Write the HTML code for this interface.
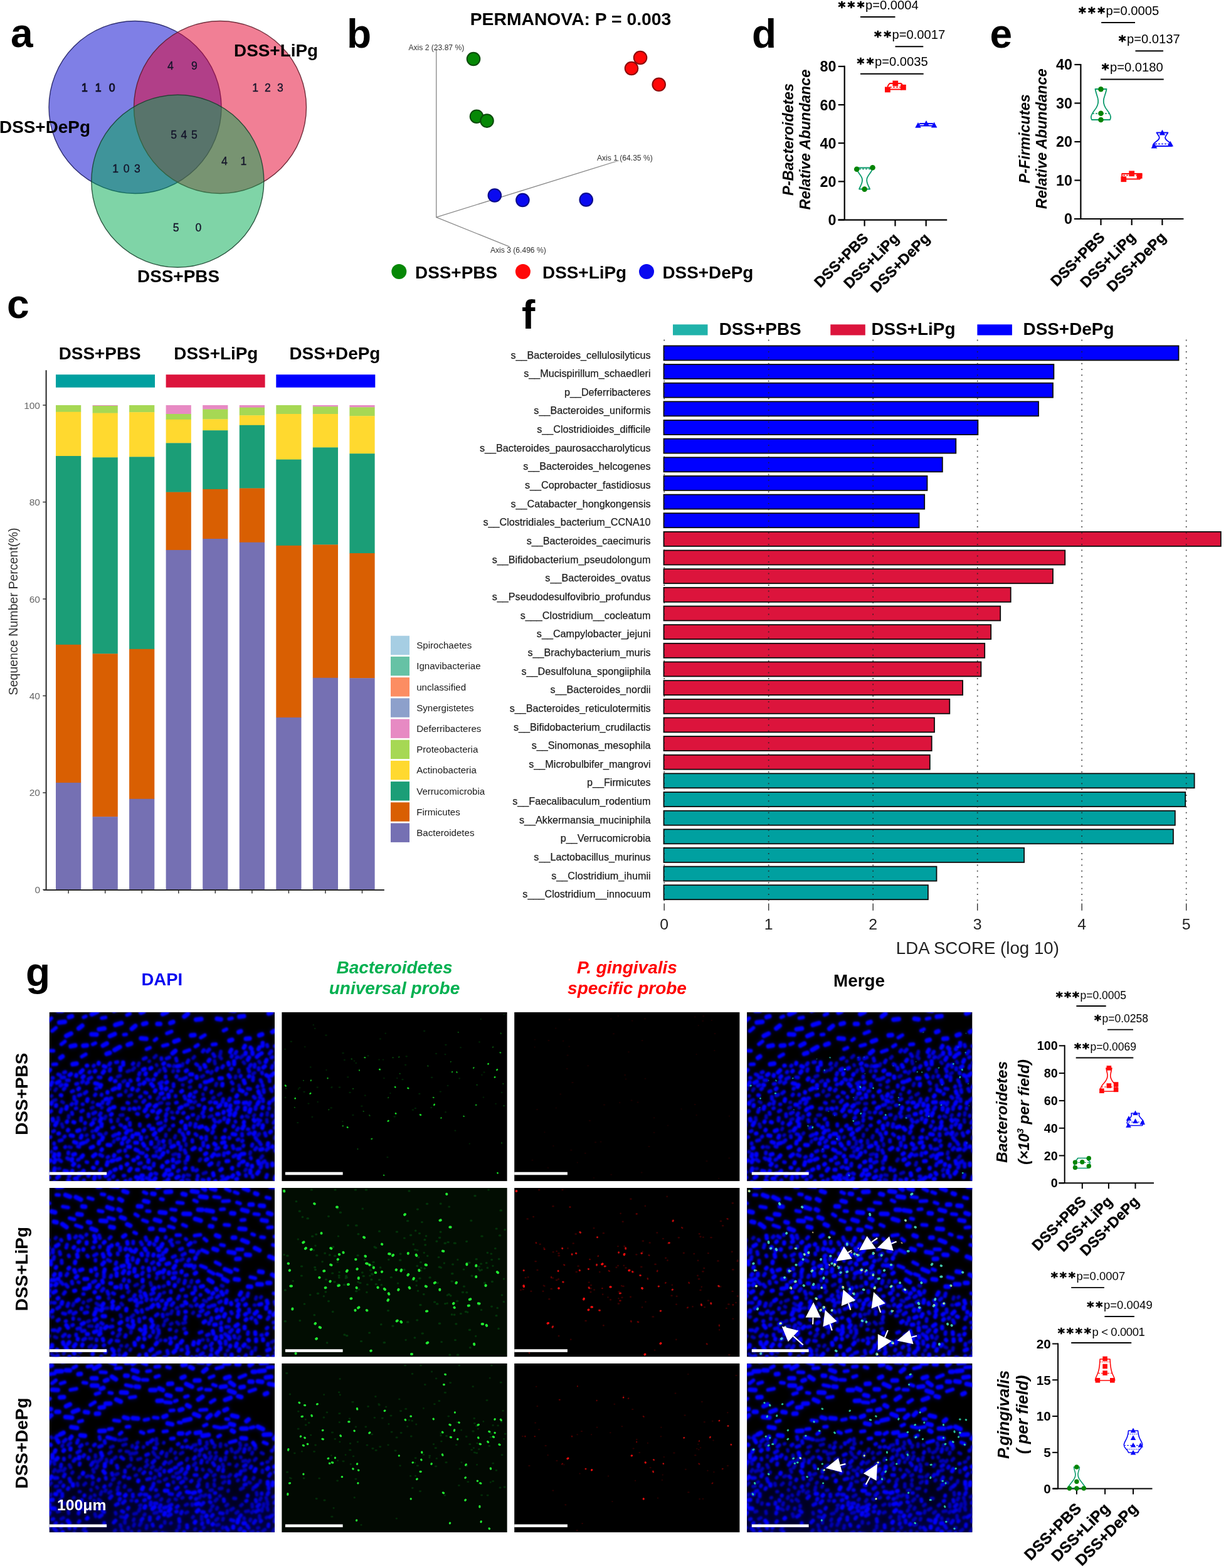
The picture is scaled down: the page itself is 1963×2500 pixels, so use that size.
<!DOCTYPE html>
<html lang="en"><head><meta charset="utf-8"><title>Figure</title>
<style>
html,body{margin:0;padding:0;background:#fff}
body{width:1963px;height:2500px;overflow:hidden}
svg{display:block;font-family:"Liberation Sans",Arial,sans-serif}
.b{font-weight:bold}.i{font-style:italic}.bi{font-weight:bold;font-style:italic}
.pl{font-weight:bold;font-size:64px}
.g{font-weight:bold;font-size:27.9px}
</style></head><body>
<svg width="1963" height="2500" viewBox="0 0 1963 2500">
<rect width="1963" height="2500" fill="#fff"/>
<g id="panel-g">
<text x="41" y="1571.5" class="pl">g</text>
<text x="258.3" y="1571.3" class="b" font-size="27.5" text-anchor="middle" fill="#0808f0">DAPI</text>
<text x="629" y="1551.5" class="bi" font-size="28" text-anchor="middle" fill="#00b050">Bacteroidetes</text>
<text x="629" y="1585.2" class="bi" font-size="28" text-anchor="middle" fill="#00b050">universal probe</text>
<text x="1000" y="1551.5" class="bi" font-size="28" text-anchor="middle" fill="#ff0000">P. gingivalis</text>
<text x="1000" y="1585.2" class="bi" font-size="28" text-anchor="middle" fill="#ff0000">specific probe</text>
<text x="1370" y="1572.6" class="b" font-size="27.8" text-anchor="middle">Merge</text>
<text class="g" font-size="28.1" text-anchor="middle" transform="translate(44 1744.2) rotate(-90)">DSS+PBS</text>
<text class="g" font-size="28.1" text-anchor="middle" transform="translate(44 2023.1) rotate(-90)">DSS+LiPg</text>
<text class="g" font-size="28.1" text-anchor="middle" transform="translate(44 2301) rotate(-90)">DSS+DePg</text>
<defs>
<clipPath id="ic"><rect width="359.2" height="269.2"/></clipPath>
<filter id="soft" x="-5%" y="-5%" width="110%" height="110%"><feGaussianBlur stdDeviation="0.8"/></filter>
<filter id="glow" x="-5%" y="-5%" width="110%" height="110%"><feGaussianBlur stdDeviation="3.5"/></filter>
<filter id="soft2" x="-5%" y="-5%" width="110%" height="110%"><feGaussianBlur stdDeviation="0.6"/></filter>
<linearGradient id="hz3" x1="0" y1="0" x2="0" y2="1"><stop offset="0.5" stop-color="#000030" stop-opacity="0"/><stop offset="1" stop-color="#000040" stop-opacity="0.8"/></linearGradient>
<g id="n1">
<g filter="url(#soft)"><g id="n1b" fill="none" stroke-linecap="round">
<path d="M14.4 172.2l-0.5 -4.2M185.5 197.6l0.3 -2.9M108.8 102.7l4.1 -1.5M171.3 84.9l-0.6 -1.2M70.2 171.4l2.8 -1.2M121.5 126.9l0.6 -1.7M66.8 152.8l2.8 -1.2M175.4 145.3l3.7 -0.8M347 175.1l-0.4 -3.8M136.6 142l1.9 0.3M310.9 81.5l-1.6 -2M83.5 152.6l0.5 -0.7M296.6 104.4l0.5 -2.4M182.5 216l1 -3.9M197 94.7l0.5 -1.3M347.2 164l0.4 -3.7M269.7 131.9l3.6 -2.4M239.2 236.8l1.8 -2.6M31.5 214.7l3 0.7M272.5 66.9l0.9 -4.5M3.1 133.9l0.7 -0.8M225.4 152.9l3.6 -0.3M220.1 259.4l3.2 0.6M236 170.7l1.8 -4.4M359.3 201.3l0.5 -2.4M211.9 85.2l0.8 -2.9M170.7 222.7l0.2 -1.1M187.9 145.8l3 -0.2M58.9 196.5l1.1 -0.9M21.2 183l-1.4 -4.7M245.4 257.1l4.4 -1.6M112.7 164.2l4.4 -0.4M141.5 85l1.4 -3.8M9.1 124.7l1.9 -2.5M159 78.5l0.6 -0.6M124.1 94.6l3.4 -1.4M68.8 143.8l0.7 -0.3M167.7 215.8l3.2 -0.9M117.4 110.8l2.8 -1.7M337.3 232.2l2.5 -3M102.4 207.1l0.7 -2.1M274.1 74l-2.8 -3.8M154.4 199.8l1 -1.2M89.3 193.9l1.3 -1.4M223.3 119.9l1.7 -0.7M325.9 165.2l1.2 -1.6M199.8 200.3l1.1 -3.4M30.6 168l-0 -2.9M302.5 118.8l-0.2 -2.5M264.9 200.5l-0 -1.2M305 72.5l3.6 -3.3M194.8 159.3l1.4 0.7M19.8 142.6l2.3 1.3M217 241l-0.6 -3.1M312 252.5l1.5 -2M265.3 116.9l1.2 -3.3M260.5 137.1l1.9 -1.1M257.6 97.4l1.8 -2.8M229.1 73.3l2.2 -2.5M324.9 98.2l2.3 -1.5M174.1 210.4l0.5 -4.5M167.1 72.2l3 -3M174.9 95l1.4 -2.8M198.1 86.6l0.7 -1.4M197 227.1l4.5 -1.1M212.2 115.8l0.9 0.2M230.8 143.7l2.2 -1.2M291.5 124.9l1.3 -2.3M302.1 95l-0 -2.9M68.1 190.1l0.7 -0.5M319.8 226l0.7 -3.1M335.6 80.4l-1.4 -1.9M6.4 141l3.9 -1.3M2.4 222.7l1.2 -0.6M254.8 166.8l4.3 -1.6M108.9 173.8l0.7 -3.3M55.7 187l1.1 -1.9M172.2 138.4l2.3 -3M242.6 103l3 -1.8M192.6 208.9l-0.1 -4.6M-3.2 121.3l3.5 1.4M219.4 267l3.3 1M269 243.6l1.3 -4.1M314.2 165.6l2.6 1.4M88.1 169.3l1.7 -3.5M264.1 82.1l-0.8 -4.6M245 131.5l-0.1 -1M191.1 187.6l0.6 -1M332.8 196l2 -2.2M218 212.4l-0.2 -2.6M183.4 182.1l1.2 -1.5M132.7 92l2.8 -3.1M14.7 249.7l1.6 -0.4M126.9 133.6l3.8 -1.9" stroke="#0000b0" stroke-width="5.4"/>
<path d="M96.1 93.6l0.8 -2.9M202.5 239.8l4.5 -1.7M264.3 174.7l-2.2 -3.8M187.3 155.7l2.2 -2.1M263.4 70.3l-2.2 -3.7M275.5 88.2l1.5 -2.6M216.7 137.7l-1.5 -3.9M331.1 203.7l-2.6 -3.6M240.5 91.5l-0.4 -3.2M350.2 153.9l0.1 -1.1M149.4 143.3l2.4 -2.6M351 66l2.9 -3.8M158 181.4l1.5 -1.1M267.3 228.1l3.4 -0.7M235.9 271.5l-0.4 -4.7M275.9 142.9l1.1 -4.7M144.8 224l4.3 0.7M58.4 206.9l3.1 -2.9M185.3 173.2l0.4 -1.9M30.1 225.1l0.1 -1.5M140.1 124.9l1.7 -1.6M70.2 199.4l-0.3 -2.2M355.6 140.6l3.6 -3.1M207.3 190l0.5 -2.3M327 87.2l0.4 -3.9M160.4 135.8l-0.3 -1M59 238.9l1.6 0.3M98.4 174.4l-0.6 -2.6M335.7 136l1.4 -2.8M128.4 180l-0.2 -3.7M83 132.1l0.3 -0.9M273.9 269.1l2.3 -1.5M355.3 165.6l0.1 -1M304.6 102.6l0.6 -1.4M359.4 184.3l0.8 -0.8M178.6 74.8l-0.1 -1.5M50.7 158.1l2.7 -1.5M4.9 104.6l1 0.1M278.4 170.6l0.6 -1.9M244.5 62.8l1.7 -2.5M196.1 168.6l2.1 0.5M298.4 155l2.4 -3.6M0.9 158.8l2.2 -1.3M132.8 82.9l1.2 -1.6M313.4 130.7l0.7 -0.8M23.3 96.1l2 -0.7M293.5 217.1l-1.2 -4.1M78.2 103.7l3.5 0.4M63.5 95.9l0.9 -1.1M321.4 233.3l-0.4 -1.2M248.3 122.9l1.2 -2.3M80.1 163.8l1.8 -2.9M213.1 161l1.2 -0.8M84.4 229.2l-3.8 -2M182.9 270.5l1.9 -0M306.8 167.3l0.6 -0.9M50.3 172.8l0.3 -4.2M165.1 107.8l1.5 -0.8M124.2 144.2l2 0.6M41.9 153.4l1.1 -0.3M173.3 177.5l4.6 -1.1M152.5 127.9l2.5 0.8M213.3 262.4l0.8 -1.9M100.4 184.5l1.9 -0.9M243.9 267.4l2.6 0.6M206.8 230.4l-0.1 -3.3M354.5 89.1l1.2 -3.7M345.1 196.8l-1.5 -4.1M97.6 137.2l1.5 -0.2M339.2 97.7l-0.3 -1.7M309.1 213.5l0.5 -1M299.1 187.8l1.8 -2.7M45.4 214l2.1 0.6M116.3 153.6l2.7 -0.2M201.2 134.2l0.2 -0.8M327.7 136.7l-2 -2M299.6 218.5l4.1 -0.8M184.9 93.6l-2 -4.3M279.7 188.8l0.8 -1.4M42.5 114.5l2.4 -0.7M245.4 166.8l0.8 -0.7M223.8 111l2.1 -1.8M316.2 121.8l4 0.7M292.2 113.7l-1.6 -2.2M124.5 207.2l2.5 -2.7M287.1 200.8l-0.3 -0.9M79.1 194.3l3 0.8M224 179.9l0.8 -2.8M340.3 117.6l-0.4 -1.5M325.5 183.8l0.7 -2.6M118 260.7l1.9 -0.2M202.3 103l0.8 -1.3M165.8 229.4l4 -0.3M62.6 106.4l4.3 -2.3M347.2 246.6l-0.2 -5M236.4 261.9l0.3 -1.3M182.4 137.7l1.2 -0.5M351.2 110.1l-0.2 -2.3M150.1 74.4l3.8 -1.6M24.9 215.2l0.7 -0.5M53.1 272.2l2 -4.4M231.7 127.8l2.2 -1.2M234.8 196l-2.1 -1.8M143.1 152.9l-0.1 -0.9M301.7 244.4l1 -2.9M188.9 222.9l-0.2 -1M336.7 248l1 -2.5M258.2 127.9l1.1 -1.6M80.2 263.6l-1.1 -4.6M23.7 198.7l0.8 -0.7M324.5 108.7l0.3 -5M289.3 91l1.2 -1.1M93 146l2.3 -3.6M94.7 267.3l0.9 -0.6M113 179.5l1.6 0.9M186.9 73.7l4.2 -1.6M175.2 113.6l4.3 -2.1M251.9 62.5l3 -3M296.6 65.5l1.6 -2.7M185.5 165.4l1.3 -3.4M219.8 80.1l1.8 -3.5M213.8 196.2l-1.7 -2.9M196.7 180.8l1.1 -0.4M28.3 232.6l2.2 1.5M155.7 106.8l2.8 1.2M110.4 132.6l3.4 -0.9M1.2 199.3l0.8 -0.5M319.8 85.9l1.4 -2.3M228 206.4l-0.1 -2.7M236 84l-2.2 -1.3M46.7 245.8l0.6 -0.6M17.6 159.1l1.6 -4.5M342.1 127.6l-0.6 -4M123.3 229.4l1.5 0.5M95.4 83.6l1.7 -2.5M46.8 132.5l2.8 -0.9M362.1 147.6l0.3 -1.5M155.5 166l1.6 -1.6M72.4 132.4l1.2 -1.4M56.1 129.3l3 -2.4M286.5 140.5l1.3 -3.1M232.4 182.7l0.8 -4.6M328.6 154.8l0.5 -4M354.6 125.9l-1.8 -3.7M318.6 94.5l-1.7 -4.5M240.5 118.6l0 -2M69.7 161.5l3.7 -1.9M217.3 224.5l-1.7 -4.4M80.5 252.3l2.1 -2M59.1 113.2l2.4 -1.7M250 203.2l-0 -4.7M237.5 148.5l1.6 -0.3M228.7 251.6l-0.3 -3.3M251.5 95l1.3 -0.3M109.8 222.2l2.9 -1.3M322.9 213.1l0.9 -2.5M127.9 269.5l1.3 -3M39.7 134.7l0.1 3.6M307.2 205.8l1 -1.1M245.4 212.5l-0.1 -4.8M244 139.6l2.6 -1.3M243.8 161.6l1.6 -2.9M62.5 166l-0.1 -3.4M259.6 192.5l1.3 -2.5M331.7 119.3l0.5 -1.1M19.3 104.2l4.4 -0.4M197.9 118.2l-0 -3.6M214.8 204.3l0.9 -3.9M105.9 79.9l2.6 -0.5M201.6 144.4l1.8 -0.6M101.5 197.2l4 -2M338.1 111.2l-1.5 -3.2M150.9 247.4l2.1 -0.7M307.4 196.8l-0.2 -2.8M265.3 218.5l4.3 -2.1M52 111.8l1.5 -1.7M357.5 176.4l2.5 -3.6M129.8 109.7l-0.8 -1.3M168.6 256.8l2.1 1M142.9 99.6l0.9 -2.9M340.7 141.9l-0.2 -3.1M-2.6 181.5l0.6 -3M337.2 210.9l-2.4 -3.9M293.4 230.1l3.8 -2.3M317.7 194.1l2.6 -1.5M7.5 209.9l-0 -1.1M255.5 143.8l1.8 -0.6M142.7 241.4l3.4 -1M52.7 146.8l0.8 -0.1M189.6 84.6l2.1 0.6M15.2 235l3.5 2.6M193.4 125.9l1.8 -0.5M203.9 160.1l0.8 -1.1M107.4 271l1.3 -2.1M278.1 228.2l0.4 -3.5M143.1 115.5l1.1 -0.6M84.6 144.6l0.4 -1.7M155.7 217.7l1 0.8M129.5 188.4l1 -0.2M270.1 174.9l2.2 -1.5M327.9 218.9l2.3 -2.7M42.4 146l0.9 -3.7M13.9 99l3 1.3M296.9 174.8l-0.3 -0.7M92.6 231.3l1.3 -1M299.8 203.4l1.8 -0.8M346.3 219.7l3.2 -3.3M35.5 126.5l2.4 -0.9M234 252.6l1.5 -1.2M324.1 262.8l-0.3 -1.9M333.7 91.3l0 -2.4M316.2 186.5l1.2 0.2M204.8 253.6l1.6 -1.5M27.9 108.4l3.2 0.1M345.7 263.2l1.3 -4M74.1 122.3l0.8 -0.7M45.3 235.4l1.7 -0.9M166.2 244.8l0.4 -3.6M175.1 231.9l1.6 -0.4M185.3 103.7l0.1 -1.5M230 135.4l0.9 -0.2M298.5 72.4l1.7 -1M139.6 162l1.8 0.4M202.9 77.5l-1 -3.9M275.1 261.7l1.4 0.1M35 147.2l1.3 -1.2M144.1 180.9l-0 -2.5M17.4 117.2l2.4 -1.3M70.3 85.7l0.8 -0.9M293 182.6l0.7 -1.4M337.9 164.2l0.7 -1.6M101.4 262.5l1.1 -1.3M36.5 162.4l-0.6 -2.4M313.5 261.3l-0.2 -1.7M154.8 264.4l4.2 0.8M347.7 54.5l-0.6 -2.5M204.9 93.6l0.8 -0.1M47.3 260.3l-0.3 -3.5M5.7 190.1l1.8 -0.9M266.3 92.5l1.6 -3.4M359.2 54l3.9 0.9M208.9 219l0.4 -4.6M318.3 147.7l1.9 -4M22.7 122.9l1.4 -1.4M214.5 106l3.5 -1.6M170.6 201.9l0.4 -1.7M123.6 170.7l1.3 -1.1M44.9 270.9l1.5 -0.2M290.3 71l0.7 -1.8M361.8 159.7l0.3 -4.2M207.6 107.2l4 0.2M56.6 177.3l0.5 -1.1M228.2 163.8l1.3 -0.2M332.1 171.3l4.3 1.3M332.3 179.5l1.4 -1.8M108.6 202.4l1.8 -0.7M339.7 240.2l3.6 -2.9M144.3 135.1l1.5 -0.7M15.8 204.9l4 -1.1M120.7 221.1l0.3 -1.3M31 262.3l1.1 -1.3M171.1 169.4l1.5 -1.6M216.5 148.3l4.2 -1.3M360.3 80.5l2.8 -1.7M354.1 72.2l1.4 -0.7M127.6 155.2l0.4 -1.3" stroke="#0000e0" stroke-width="5.8"/>
<path d="M291.2 249.3l0.3 -1.3M301.9 232.8l1.5 -4.5M7.6 239.1l1.8 -3.7M46 122.8l1.2 -1.3M271.3 105.4l3.8 -0.2M113.9 248.6l0.1 -2.3M156.3 149.6l3.5 -2.3M147.1 260.4l1.9 -0.1M248.6 87.2l-1.4 -3.1M219.8 235l1.1 -4.5M181.4 206.1l0.5 -1M10.5 149.5l0.2 -1.4M69.6 229.7l3.8 -3M275.3 208.1l3.7 -0.9M137.9 274.2l2.7 -4.1M167 267.7l2.1 -2.7M149.2 209.5l2.1 3.3M37.8 243.5l1.6 -1.7M247 153.2l0.4 -1.6M72.8 113.3l4.1 1M26.8 154.1l0.9 -3.6M331.3 257.4l2.4 -3.4M323.9 66.6l-0.2 -2.5M202.5 264.1l3.5 -2.2M194.6 214.8l4.2 -1.9M150.2 113.6l1.5 -1.8M39.7 175.6l-1.5 -0.5M163.8 157.8l1.6 -0.2M91.5 243.5l1.3 -4.6M169.3 99.9l0.7 -1.3M50 209.6l4.1 -1.2M166.4 195.2l2.5 -2.7M355.5 214.7l0.3 -0.8M40.8 265.3l3.1 -0.7M294.7 164.5l1.7 -3.9M242.4 200.4l-0.4 -0.8M60.1 141.6l0.7 -3.1M103.8 251.4l2 -1M33.9 196.4l3.7 0.6M78.3 82.3l0.4 -1.6M82.9 181.5l0.3 -3.3M257.6 155.3l0.8 -1.3M222.3 141l3 1.2M248.3 226.3l1.9 -1.3M249.5 235.6l2.3 -1.5M139.5 251.2l1.9 -0.1M51.6 256.5l3 -3.5M115.8 209.6l-0 -1M255.3 109.5l4 -2M74.6 188.4l2.7 -3.5M210.2 126.6l1.5 -1.1M123.2 242.9l1.2 -1M318 102.5l0.6 -0.8M181.6 82.4l1.3 -1M252.4 187.5l-2.8 -3.2M223.3 133.4l1.5 -2.7M86.7 85.9l2.7 1.1M138.4 194.1l3.8 -0.1M42.5 101.6l0.4 -1.7M14.3 193.4l1 -0.2M263 271.6l2 -2.3M35.6 254.9l1 -1.9M359.8 119.6l0.7 -1.3M117.8 202.1l3 -2.1M124.8 116.8l0.2 -2.5M191.3 259.7l3.8 -1.3M197.6 247l-0.1 -1.4M98.1 163.4l1.2 -1M122.2 192.5l2.6 -3.6M307.9 185.3l2.2 -4.2M267.5 162.6l2 -0.2M344.8 79.3l1.5 -3.3M149.2 91.7l2.8 -1.4M5.7 172.6l-0.5 -2.7M262.9 209.6l2.1 1.8M11.8 112.6l4.1 -2.2M179.5 246.6l0.8 -1.7M15 228.2l0.2 -2.5M32.1 100.2l2.3 -1.7M284.2 175.6l1.4 -3.8M37.8 227l3 -0.9M175.7 187.9l3.2 -2.3M39.4 206.9l3.5 1.2M264.1 144l1.9 0.2M132 198.8l0.7 -2.2M261.5 183.8l1.7 -2.6M148.2 271.9l0.3 -5M96.3 255.7l0.8 -0.7M308.2 126l-4.5 -2M319.1 159.1l1.4 -4.4M94.3 156l1.9 -1.9M177.4 129.9l2.6 -0.7M288.2 63.4l1.9 -3.7M102.9 229.2l0.6 -1.5M294.6 82.8l-0.1 -4.7M282.4 237.5l2.9 -0.3M348.3 211.5l0.4 -2.8M310 144.6l3.9 -0.5M165.3 117.7l-3 -3.4M172.9 160.4l3.6 -3.4M261.8 260.1l-0.8 -3.5M190.1 135.1l-0.3 -3.6M337.4 66l1.1 -0.6M310 56.8l1.8 -3.3M111.2 121l0.7 -4.9M75.7 240.8l0.5 -1.7M101.4 151.7l2.3 -0.5M107.9 235.2l4.6 -1.9M8.7 216.8l1.6 -0.4M18 132.3l1 0.2M354.2 100.7l3.4 -3.1M216.2 249.6l0.9 -0.9M100.8 123.4l4.2 -1.9M312.7 66.5l0.3 -2.1M150 189.1l0.9 -0.8M298.1 134.5l1.4 -1.9M127.2 252.6l2.4 -3.4M284.4 224.3l1.3 -0.5M277.6 160.4l0.4 -1.6M297.8 266.1l1.6 -0.4M131.9 122.9l0.7 -1.2M276.5 200.1l2.6 -0.6M320.3 256l0.1 -3.6M217.5 93.8l1.8 -1.1M291.4 262.2l1.5 -2.3M178.5 121.7l-0.6 -3.7M187.3 251.8l3.7 -0.2M220 168.5l1.2 -0.7M296.8 143.6l4.5 -0.2M29.4 188.4l0.6 -0.8M210.2 175.2l0.8 -0.7M154.3 229.7l0.6 -0.8M134.7 153.6l1.7 0.4M185.7 122.6l1.2 -1.3M167.9 150.2l2.6 -2M196.9 236.7l0.1 -2M80.9 118.9l1.4 -3M29.8 268.5l1.8 0.7M176.2 219.4l0.7 -1.7M27.8 175l0.4 -0.9M162.3 209.8l0 -2.5M50.1 200l1.2 -3.1M339.5 184.5l0.8 -4.2M168.3 126.1l0.9 -1.6M53 103.8l1.6 -1.6M59.5 85.2l0.9 -0.2M234.8 104.6l-0.1 -2.1M120.1 183.9l0.9 -0.7M26.2 115.6l1.2 0.6M333.3 58.9l1.5 -2.9M110.5 193.8l0.6 -0.6M240.9 219.1l-0.2 -1.1M203.3 86.2l4.2 -0.8M-2.4 94.9l3.4 -2.9M362.7 223.1l-2.2 -2.5M140.7 232l0.7 -0.8M-3.6 263.6l2.8 -0.1M151.8 157.7l2.3 -3.2M125.3 214.5l3.2 0M306.6 226.1l4.2 -0.4M302.1 258.3l-1.5 -2.2M83.9 202.9l1.3 -3.3M269.1 151.1l3.4 -3.2M334 241.6l-1.3 -4.5M286 83.5l-0.7 -3.1M117.7 83.6l-0.2 -3.5M-2.7 255.4l1.2 -0.6M51.4 230.7l2 -2.4M2.1 115.8l2.1 -4M146 202.2l0.1 -2.8M9.2 180.1l2.3 -3.9M221.6 193.1l0.1 -1M255 243.3l3.4 -2.4M287.9 103.5l-2.1 -3.2M12.4 264l2.7 -2.4M238.9 183.5l4.4 -1.4M322.4 58.5l-1.8 -2.2M315.5 243.5l0.3 -1.3M137.4 219l3.4 1.5M253.9 267l0.3 -0.9M157.7 238.7l0.3 -2.8M355.6 244l-0.1 -2.8M69.5 247.9l1.2 0.2M311.5 113.2l-1.6 -4.5M359.5 265.9l0.9 -3.8M72.3 94.4l0.9 -0.9M80.6 173.8l2 -4.6M285.4 156.8l3.4 -1.2M49.4 96.1l3.5 -3.6M71.4 266.1l0.9 -4M113.1 92.3l-0 -4M316.4 75.9l1.9 -3.6M352 191.5l1.1 -1.2M158.9 248.6l1.8 0.6M339.6 152.8l0.6 -1.6M35.8 236.3l0.5 -2.3M62.1 261l1.2 -2.9M205.6 209.6l-0.1 -1.5M275.7 116.6l0.2 -2.3M187.1 238.9l1.7 -0.8M341.1 88.1l2.5 -1.9M138.1 262.9l4.6 1M85.1 96.6l1.9 -2.5M3.1 146l0.4 -1.6M272.5 251.7l2.3 -1.7M99.1 237.3l2.8 -0.8M136.8 208l2.9 -0M182.9 260.1l2.1 -2.7M334.2 129.1l-1 -2.9M160.8 89.9l1.8 -1.1M253.8 77.8l1.5 -2.2M292.1 194.2l4.5 0.7M280.5 215.6l0.9 -2.1M77.2 147.4l2.6 0.3M311.8 155.2l0.3 -2.9M188.8 267.4l1 -0.7M287.1 164l1 -2.5M247.9 111.5l2.8 -0.4M96.9 107.4l1.3 -2M92.7 211.6l4.5 0.2M133.8 236l1.1 -0.3M89.4 261.2l3.5 -1.9M210.1 269.7l2.1 -0.9M78.6 209.4l0.7 -3M349.2 102.4l-3.4 -2.2M281.3 148.5l0.4 -2.6M323.1 246l-0 -1.1M7.3 230l0.9 -3.6M336.3 219l3.4 -0.8M207.3 153.1l3.6 -2M228 218.5l3.8 -2.3M186.3 112.3l1.3 -1.1M6.1 273.3l1.7 -2.4M141.4 107.9l0.4 -1.5M162.9 186l3 -0.3M331.9 146.2l2 -3.6M153.2 99l0.6 -1.6M252.8 214.8l0 -1.2M281.3 266l3.7 -2.5M159.9 273.2l0.9 -4.6M307.1 238.6l2.7 -0.7M224.5 99l3.1 0M-0.7 237.6l2.4 -1.4M66.8 179.1l2.6 -2.5M120.8 270.1l0.8 -0.6M7.5 253.3l1 -4.4M327.1 173.4l-1.3 -1.9M24 253.2l4.1 0.9M180 227.3l1.8 -2.9M92.5 128.2l0.2 -1M66 216l3.6 -1.5M288.3 150.3l0.3 -1.8M89.5 138.8l2.2 -0.7M82.9 219.8l0.9 -1.3M104.4 109.9l1 -0.2M44.4 189.2l3.5 -1.2M310 176.1l0.3 -1.4M217.1 185.5l-0.2 -4.8M339.9 53.6l0.1 -4.8M259.3 229.9l3 -3.7M330.7 71.4l3.1 -3.1M350.4 145.4l0.5 -1.5M160.9 259.9l1.2 -1.9M326.1 194.4l1.4 -2.8" stroke="#0202ff" stroke-width="6.4"/>
<path d="M232.7 54.7l4.2 -2.6M167.7 44.7l3.1 -2.4M83.4 9.3l6.1 -1M214.8 63.2l8.5 -2.9M5.9 83.1l5.3 -0.3M259.9 51.5l5.7 -0.5M4.4 29.9l6.1 -5.1M123.7 4.4l4.6 -2.2M54.5 8.1l3.5 -1.5M187.3 33.8l7.6 -3.1M241.3 40.5l6.6 -4M69 51.2l4.3 -1.9M18.9 51l5.9 -4.5M154.8 58.9l5.5 -2.3M118.6 35.8l3.8 -0.5M102.8 -1.6l5.5 -2.7M1.4 61.3l5 0.2M277.7 29.4l4.6 -2.4M51.6 70.8l6.4 -3.7M286.4 10.6l4.8 -0.9M-4.3 16.3l7.6 -6.8M180.9 53.5l7.7 -1.8" stroke="#0202ff" stroke-width="5.6"/>
<path d="M287 45.3l4.3 -1.4M215.1 6.9l5.8 -4.6M85.3 53.1l6.3 -3.4M180.6 3l7.1 -3.4M131.4 26.5l5.6 -4.8M267.1 10.3l6.4 1M17.5 72.8l3.4 -2.4M96.4 38l7.8 -3.3M199.2 46.7l6.7 -2.3M226 36.9l5.2 -0.6M26.9 37.7l7.6 -3.8M149.6 18.8l4.9 -1.4M196.3 65.5l4.6 -3.9M54 53.3l5.6 -0.5M15.7 16.4l8.9 -1M105 20.2l10 -3.1M31.3 7.7l4.6 -1.2M124.9 51.9l5.4 -1.9M145.8 0.7l4.3 -1.6M37.1 82.9l6.3 -1.1M301.8 31.7l3.4 -1.4M302.8 7.1l7.3 -0.9M91.2 66.4l5 -1.7M172.2 18.7l4.4 -0M288.9 -3.3l6.3 0.9M334.6 36.8l4.6 -1.5M103.9 60.2l8.4 -4.8M67.4 3.3l8.8 -3.9M192.9 17.2l4.3 -1.7M233.7 11.8l8.5 -1M146.1 41.6l8.3 0.8M34.1 54.2l7.1 -1.3M355.4 31.4l3.3 -1.6M313.3 42.3l5.9 -0.4M79 27.2l8.6 -1.3M67.1 35.2l8.2 0.3M46.7 25.9l5.7 -4.5M349.6 2.1l4.6 -1.6M13.7 -2.3l6.6 -0.1" stroke="#0202ff" stroke-width="7"/>
</g>
</g><use href="#n1b" filter="url(#glow)" opacity="0.45"/></g>
<g id="n2">
<g filter="url(#soft)"><g id="n2b" fill="none" stroke-linecap="round">
<path d="M326.6 186.8l1.5 0.1M181.4 157l1.9 -0.8M108.8 236.4l3.3 -3.6M202 228.7l0.8 -1.2M61.7 180.2l4.3 -1.8M182.1 143.8l0.1 -1.9M-1.8 184.9l4 -2.2M354.4 245.8l3.9 -2M89.3 191.9l3.8 -0.2M171.8 223.9l1.4 -3.7M203.4 86.9l3.4 -0.2M100.8 210.8l-0.4 -0.7M54 183.1l0.5 -1.1M94.5 176.5l0.1 -1.3M206 217l-2.8 -2.8M329 177.1l0.9 -3.1M8.3 237.5l3.2 1.3M193.3 217.3l2 -1.2M194 200.1l1.5 -4M184.3 212.4l3.6 -2.5M170.6 144.6l0.8 -2.3M9.4 80.7l1.4 -1.7M328.2 258.7l0.6 -3.8M125.3 166.6l1.5 -2.1M37.3 187.7l1.5 -3.6M283.5 259.6l1.4 -1.1M-2.8 87.1l1.9 -4.2M114.1 251.8l0.9 -0.1M280.9 268.7l-0.4 -3.2M231.2 86.3l1.6 -0.1M64.4 240.2l3.1 -0.1M274.3 155.6l2.3 0.8M114.2 205.2l-1 -2.7M60.9 213.2l2.9 -1.4M-3.2 238.5l3.2 -2.3M148.2 158.8l1.8 -2.2M62.9 220.4l4.9 0M226 150.9l0.8 -3.2M116.5 186.4l-2 -2.4M205.4 150l1.4 -4.2M63.3 253.5l3.8 -2.3M209.1 115.5l3.7 -2.1M46.4 260.6l2.8 1.3M212.8 215.8l4.1 -1.2M6 267.2l-2.7 -2.3M46.9 209.4l1 0.2M245.9 179.2l4.2 1.8M128.6 258.8l0.8 -1.7M253.1 243.1l-0.5 -1.4M176.8 243.2l0.7 -0.5M22.5 264.6l1 -1.4M182.2 167.2l1.2 -0.6M122.6 252.7l1.6 -1.9M130.5 206l3.5 -3.5M202.7 191.9l1.6 -1M301.3 240.7l2.3 -3.5M110.9 260l0.6 -2.3M82 268.5l0.9 -0.6M224.7 187.9l2.4 0.9M60.4 189.1l1.2 0.9M111.8 267.1l-0.5 -1.2M181.9 219.5l0.9 -2.3M162.2 155.4l-1.1 -4.3M46.9 270.7l-0.7 -0.4M170.6 239.3l2 -3.6M136.4 155.7l3.9 -1.9M129.8 231.1l0.6 -2.9M221.7 157.5l1.4 -0.5M214.4 224.9l1.1 -0.7M336.7 174.8l1.2 -1.3M244 242.1l1 0.2M4.8 206.2l0.7 -0.7M315.9 253.8l2.6 0.9M74.8 184.1l3.7 2.8M266.4 273.2l2.9 -3.8M187.3 201.8l1.8 -0.3M228.6 199.8l1.1 -1.5" stroke="#0000b0" stroke-width="5.4"/>
<path d="M128.1 222.5l-3.5 -3.3M247.8 254.7l1.6 -1.9M61.4 109.5l-1.1 -1.6M217.3 81.4l1.1 0.7M22.9 168.8l2 -2.7M58.7 75.1l0.6 -0.8M273.4 216.5l0.6 -2M80.3 94.6l0.2 -1.4M41 78.9l1.6 -1.7M174.8 158.3l-0.3 -0.8M198.1 135.9l3.6 -0.7M21.4 200l4 0.9M194.7 187.1l3.1 -3.9M211.9 107l4.1 -2.1M237.6 203.9l2 -0.2M312 269.2l1.6 -2.6M80.6 80.2l-1.2 -4.5M181 204.9l-0.5 -3M106.9 243.6l3.2 0.5M249.7 201.7l4 -2.9M221.3 116.3l1.6 -2.4M105.7 121.3l1 -2.8M322.2 264.9l0.6 -3.7M28.7 188.6l1.6 -4.7M184.6 243.1l1 -0M147.6 137.4l1.4 -2.6M330.4 215.3l-1.9 -4.3M12.9 211.6l2.3 -1.7M286.2 212.5l0.6 -3.7M347.9 209.3l2.2 -3.5M191.7 225.9l1.1 -0.3M257.8 211.3l0.7 -4M231.4 179.5l2.1 -3.6M239.4 230.9l3.4 -1.3M200.3 239.3l1 -1M127.9 178.6l3.1 -0.8M254.2 177.1l4.3 -2.1M109.1 106.2l-0.2 -2.1M50.9 193.2l0.4 -1.5M210.3 162.9l2.8 -1.1M287.7 230l3.4 -3.6M97 221.7l3.8 -0.8M154.6 179.3l0.7 -2.6M257.4 250.8l1.9 -3M178.5 180l1.7 -0.6M318.6 198l-0.2 -4.3M216.9 139.5l2.5 -0.7M174.5 231.7l-0.2 -4.8M240.8 266.1l4 -2.5M163.4 120.2l2.6 -2M147.7 90.3l-2 -3.8M10.3 269l3.4 -1.5M19.7 119.9l-0.3 -3.9M298.2 179.5l1.1 -0.7M143.4 213.4l-0.2 -4.6M69.2 150.3l4.1 -2M17.3 106l-1 -4.1M156.6 108l0.6 -4.2M338 234.8l0.9 -0.3M193.6 166.7l-0.1 -2.3M56 199.3l4.5 -0.9M73.5 115.9l-0 -1.3M81.3 228.1l0.6 -4.8M112.8 99.4l-0.1 -4.3M151 207.3l1.1 -0.6M281.2 248.8l-0.2 -4.3M307.5 178.6l2.5 -2.3M172.1 263.4l4.1 -1.7M258.9 187.9l4.8 -1M210.2 258.4l1.2 -0.2M216.4 123.9l0.9 -1.2M135 172.7l1.2 -1.9M282.2 166.8l1.1 -2.7M148.5 127.6l0.4 -0.9M36.5 152.5l-0.7 -3.2M13.5 228.4l3 -3.9M225.1 273.6l1.9 -3.8M101 167.7l2.4 1.1M290.9 200.2l-1.2 -2.4M115.5 173.8l2.1 -0.7M120.9 237.3l1 -2.7M360.4 185.6l-1.3 -4.1M18 149.9l2.9 3.3M132.8 114.7l0 -3.1M167.6 90.9l-0.9 -1.4M69 95.4l1.5 -0.6M6.7 113.6l0.8 -3.7M232.7 163.2l-0.4 -4.8M118.3 148l1 -2.4M145.6 182.4l1.5 -0.3M27 139.5l1.8 -2.9M208.1 98.2l3.7 -1.4M74.2 192.5l4.1 1.7M158.8 141.2l-0.1 -1.5M5.2 226.8l3.3 0M347.2 270.7l1.1 -3M71.5 255.8l2.9 -3.9M169.7 203.6l2.9 -2.3M235.6 105.6l2.8 -4M31.6 198.2l1.9 -1.7M6.7 183.1l2 0.1M26.8 95.2l1.3 -4.8M315.7 172.7l1.2 -4.6M44.4 224.5l4.6 -0.8M240.6 171l0.5 -0.7M348.2 250.8l0.3 -2.4M162.1 169.5l4.1 -2.1M174.5 172.9l1.6 -3.5M167.2 129.8l0.3 -1.8M127.1 149.2l-0.2 -1.6M83.5 164.2l2.6 -3.4M210.5 187.9l2.7 -0.6M251.1 234.9l3.3 -1.5M282.8 235.1l-2.7 -2.1M159.9 237l0.8 -1.3M215.2 152.1l1.2 -4.4M31.3 109.1l-0.6 -1.5M196.2 91.8l-1.3 -2.7M236.1 259.3l0.7 -1.4M189 264.1l-1.1 -4.6M145.1 165.8l-0.4 -1.6M254.6 216.7l-0.1 -1.4M75.1 221.4l1.9 -2.6M360.3 255.4l0.3 -1.2M154.9 83.4l-1.5 -4.6M38.2 200.6l3.9 -2.1M266.9 174.3l2.7 -2M139.4 188.2l1.1 -4.6M114.2 159.5l0.1 -4.3M270.5 182.6l2.9 -1.7M5.5 103.2l0.3 -4.9M86.3 251.4l1.1 -0.8M196.5 110.3l3.9 -1.7M258.4 259.2l0.5 -2.7M19.2 83.8l-0.7 -1.1M316.3 233.2l0.5 -3.4M142.7 267.8l1 -1.7M147.9 197.8l-0.7 -3M162.7 178.5l0.8 -0.7M25.8 212.5l0.8 -0.3M205.4 201.2l0.3 -3.7M75.2 243.1l-0.1 -1.7M53.6 242.2l3.5 -1.8M133.6 88.5l0.1 -2.9M75.2 140l0.8 -2.7M96.9 116.7l-3.8 -2M42.7 235.3l-0.1 -1.7M216.8 172.6l1.5 -0.1M295.4 238.6l-0.8 -2.6M183.1 193.5l1.5 -1.9M180.5 106.3l1 -2.6M346.4 224l1.5 -1.3M182.9 270.1l3.2 -0.2M155.4 193.1l1.9 -0.5M95.6 246.6l3 -3.8M253.5 189.7l1.4 -0M71.2 107.7l4.2 -2.2M204.8 176.8l2 -4.2M281.9 221.6l4.1 0.1M97.7 142.3l1 -2.7M53.8 169.2l1 0M234.2 270l0.4 -1.1M87 142.1l-0.1 -4.5M124.2 211l0.4 -3M234 187.2l1.2 -1.2M360.6 262.5l3.1 -1.1M100.7 231.8l0.6 -0.6M209.1 272l-0.3 -1.6M26.3 154.1l2.9 3.5M230.3 128l1.7 -3.6M85 216.9l-2.5 -1.7M240.6 197.3l3.9 -2M37.9 209.1l0 -1.1M46.2 150.3l0.9 0.4M95.7 80.6l2.1 -2.4M21.4 236.7l3.4 -3M36.3 219.1l1.4 -0.7M220.3 256.9l-0.8 -4.3M192.1 84.7l2.4 -1.7M357.2 214.6l3.1 -0.5M12.3 192.3l3.7 -2.4M30.9 236.8l0.9 -1.1M94.1 169.5l-1.8 -4.5M52.5 79.2l-3.2 -2.3M169.9 178l1.9 -1.5M140.7 198.3l-2.7 -2.7M165.4 230.3l0.3 -2.3M154.6 116.4l0.2 -2M192.3 239.7l1.3 0.5M247 274.2l1 -4.6M185.3 79.6l0.4 -1.3M146.8 175.3l-1.5 -3.3M216.1 209.4l1.2 -4.1M165.2 268.9l2.4 -1.9M321.6 208.1l0.9 -1.1M51.7 228.4l4.5 -0.7" stroke="#0000e0" stroke-width="5.8"/>
<path d="M159.1 89.8l0.9 -2.6M11.4 259.3l0.8 -1.5M359.7 223l0.9 -0.6M136.3 250.4l-0.6 -3.4M163.4 212.7l-1.7 -3M85.1 151l-0.8 -3.1M10.4 92.8l4.1 -2.4M111.9 226.5l0.7 -1M85.7 243l-0.6 -2.2M89.2 262.1l0.5 -1.7M245.9 214.3l2.4 -1.7M31.7 80.5l-0.6 -4.4M93.7 99.4l1.1 -4.8M270.6 205.5l-3.7 1.7M345.8 192.6l0.1 -2.3M44.9 110l-0.8 -3.8M30.4 128.6l1.1 -1.3M225.4 100.8l4.1 0.4M73.7 129.6l-0.3 -1.2M6.4 166.8l3.7 -2.1M300.5 229.2l1.1 -2.4M356.2 270.5l1.4 -1.4M329.6 244.4l-0.1 -2.9M336.5 205.8l-1.8 -0.7M130.9 100.5l-2.5 -2.4M86.5 109.7l-1.3 -4.1M84.4 121.9l2.8 -3.3M159 131.9l-0.7 -3.8M42.2 142.9l2.2 -2M181 134.4l2 -3.5M164.6 162l3 -2.3M59.3 88.7l0.1 -2M264.9 240.9l0.9 -3.3M38.6 95.4l0.9 -1M165.7 107.8l0.4 -1.6M334.4 186l3.4 -0.9M172.2 136.5l4 -1.9M45.5 100l0.6 -1M250.6 162.8l3 2.6M351.4 198.5l-0 -0.9M241 189.3l4 -2.7M13.1 176.4l1.1 -0.8M162.6 190.1l2.9 -3.5M300.2 205.6l0.9 -3M17.4 139.2l0 -2.5M146.3 227l-1.8 -1.3M241.5 157.3l3.6 -0.8M107.2 140.1l-0 -4.1M302 259.6l1.1 -2.4M347.2 259.2l3.9 -1.9M296.7 220.2l3.8 -2.6M52.2 251.4l0.6 -1.6M45.1 241.6l0.2 -1.1M100.3 182.4l1.1 -1.5M185.9 186l0.6 -2M39 252.8l2.6 -3.5M117.4 77.7l3.7 -2.4M117.1 135.8l2.2 -3.6M297.4 252.4l1.4 -4.3M333.3 270.5l2.7 0.7M75.8 158.2l3.1 -3.3M100.1 192.2l0.9 -4.8M41.1 134.2l-1.4 -3.3M4.1 147l3.8 -0.2M147.5 107.1l-0.7 -2.4M256.5 269.4l1.3 -3.1M272.6 248.1l-1.5 -2.9M4.1 253l0.2 -2.6M266.7 263.3l2.1 -2.4M231.8 136.7l2.1 -1.5M346.5 233.6l0.6 -1M170.4 84.2l1.6 -4.3M219.8 264.4l1.2 -2.3M274.1 195.5l1.2 -3.3M190.4 136.6l0.2 -1.9M318 243.2l-0.8 -1M281.5 183.1l0.8 -4.5M160.7 259.3l3.1 -2.3M185.2 101.4l1.6 -2.8M301.8 271.6l-0 -1.5M328.4 233.1l-0.2 -2.8M29.8 248.5l2 -2.5M84.8 204.5l4 0M-2 166.6l1.4 -3.3M177.5 114.8l4.7 -1.7M169.5 249.4l2.1 -2.7M312 186.7l1.5 -1.1M71.5 202.1l1.9 -4.2M115.1 124.9l3.7 -0.9M123.9 158.8l-0.7 -2.7M218.4 184.1l-2 -2.3M86.7 87.5l1.4 -1.4M136.8 179.9l1.4 -1.2M66.5 132.9l-0.1 -1.7M-1.7 173.6l1.1 -1.4M28.2 257.2l-2.2 -3.5M9.6 155l1.8 -2.2M261.4 232.4l-0.8 -4.2M198 127.9l2.6 -3.9M199.7 156.4l0.5 -1.6M39.4 164.2l1.9 -0.5M-1.6 106.3l-0.6 -3.2M232.4 112.9l0.6 -1.6M178.1 93.4l2.2 -4.1M140 119.2l1.6 -4.3M83.1 195.5l1.1 -2.4M40.7 119.9l0.5 -2.5M311.3 223.7l-0 -2.3M152.6 225l-0.2 -4.6M237.5 247.9l1.4 -3.5M55.7 145.3l4.7 -0.2M266.9 162.6l-1.3 -2.1M105.2 158.5l2.3 -0.2M312.9 210.7l1.3 -1.2M217.3 231.7l0.7 -0.5M39.9 264.2l-0.8 -0.9M301.2 197l1.2 -2.5M71.9 86.1l1.5 -0.7M122.5 195.3l0.3 -2.7M274 227.1l-0.2 -3.8M192.8 247.9l0.8 -1.8M135.8 101.8l2.5 -3.3M150.6 233.5l2.2 -3.7M-0.3 156.1l3 -1.1M87.1 134l1.1 -3.9M210.6 134.6l0.3 -1.8M278.3 204.9l1.8 -3.7M-2.3 149.6l-0.3 -1.5M59.8 232.9l1.7 0M290 185.4l-0.4 -2.1M290.4 269.8l0.2 -4.2M266.1 196l0.9 -2.3M99 92.3l0.4 -0.8M222 90.5l3.2 -2.5M10.2 127.3l0.6 -1.3M190.1 152.9l-0.3 -2.3M29.7 222.9l-2.8 -4M68.9 265l0.3 -1M348 184.1l-1.3 -4.3M174.4 189l-1.5 -3.4M55.1 160.6l4.4 -0.4M101.3 267.7l2 -2M79.4 233.8l1.8 -1.7M77.1 175.1l2.4 -0.2M54 98.6l0.2 -0.8M96.8 106.5l-1.8 -2M196.6 144l3.1 -0.9M123.7 109.1l1.3 -1.3M153.6 99.3l-1.6 -2.8M71.9 166.4l0.7 -0.5M203.4 254.4l0.6 -3.5M121.4 98l0.8 -1.2M153.6 171.8l-1.7 -3.5M127.1 126.6l0.3 -4M186.7 121.5l4.3 -1.4M71.1 229.9l4 -1.5M22.4 249l-0.8 -2.9M31.2 273.6l0.6 -4.4M190.1 178.8l2.8 -1.4M276.4 169.9l-2.1 -4M141.3 241.8l1.2 -2.2M43.4 180.1l3.2 -2.3M135.4 133.4l0.4 -4.2M88.7 223.5l2.7 -2.4M162.8 222.4l2.5 -3.8M227.9 168.3l1.8 -0.6M138.1 140.7l2.2 -0.6M102.5 260.2l-2.5 -3.3M303.5 170.5l2.1 -3.9M148.5 149l0.2 -2.6M287.3 240.6l-1.6 -3.5M-4.3 257.7l3 -2M71.8 210.8l2.9 -1.9M216.7 197.5l0.9 -0.1M132.8 222.1l1.3 -3.8M229.4 250l0.9 -4M154.8 267.9l-0.6 -2.8M174.7 122.1l-1 -1.4M111.7 215.7l2.8 -1.8M46.4 86.5l1.2 -1.2M4.3 196.9l0.8 -1.5M236 149.5l1.5 -0.8M148.9 253.4l-0.1 -1.1M274.6 238.6l-0.6 -2.4M327.3 200.6l3.6 -3.4M272.5 257.1l0.4 -2.4M-2 203.8l0.2 -4.8M83.9 188l2.3 -3.7M174.7 99.5l-1.8 -2.9M357.1 202.5l3.5 -3.3M340.7 242.8l-0.2 -1.7M221.7 123.8l4.7 -0.1M97 152.1l1.7 0.1M309.3 251.8l2 -2.2M118.6 268.2l3.1 -3.7M63.7 158.9l0.2 -4.2M259.9 168.7l1.4 -1.1M124.5 89l-0.5 -2.9M104.9 129.7l3 -1.8M2.3 121.8l-0.2 -4.9M19.6 184.7l0.7 -2.9M7.3 139.2l1.1 -1.9M108.3 90.3l0.6 -0.7M13.2 145.3l1 -0M198 262l2.8 -2.5M48.8 131.2l3.8 -1.2M151.6 241.2l-0.2 -0.8M173.9 108.3l0.8 -0.1M202.7 117.1l0.4 -0.9M107.5 192.9l3 -2.2M300.1 188.2l1.4 -2.8M133 213.2l-0.1 -1.2M312.1 201.9l1.5 -1M51.5 217.1l3.4 -1.8M73.1 80l-1.7 -3.5M209.4 247l2.3 -3.2M124.4 118.5l-0.1 -3.9M262.8 218.2l2.6 -0.3M288.1 252.9l0.3 -1.4M-2.1 96l-0.7 -2.6M126.5 136.4l0.7 -1.8" stroke="#0202ff" stroke-width="6.4"/>
<path d="M279.1 58.7l7.5 0.7M323.2 73.7l3.4 1.1M299.1 23.2l5 1.7M276.5 21.3l10 -0.6M267.6 137.4l6.6 2.5M320.4 142.2l8 1.8M241.3 124.1l8.4 3.3M281.1 1.1l6.6 3.4M177.6 17.6l3.4 0.8M212.6 58.7l5.6 2.3M135.1 70.9l3.3 1.7M11.1 11l4.3 0.3M356.1 90.9l10 1.9M62 15.9l7.1 2M32 48.3l8 1.9M42.2 59.6l9.1 3M78.4 36.4l6.5 1.3M358.7 77.5l6.2 1.5M21.2 29.8l8.9 1.4M149 51.3l7 2.6M337.4 78.4l5.2 0.6M83.1 10l4.6 0.6M357.6 168.2l3.5 0.6M190.4 61.3l7.9 2.3M306 51.4l5.5 -0.5M346 15.2l5.3 1.3M262.3 14.3l9 1M265 118.5l7 3.6M296 129.6l4 1.5M348.3 63.2l6.7 -0.6M136.9 42l4.3 2.6M203.7 23.3l9.2 0.9M326.5 41.5l7.5 0.7M230.7 19.7l4.6 2.1M261.3 48.8l3.9 1M247 81l3.7 3.2M231.5 76.1l9.3 -1.3M273.1 34.2l5.6 -0.4M351.7 -1.3l9.3 0.8M194.1 34.3l7.3 0.9M155.3 36.9l4.6 0.4M-4.4 21.1l4.5 3.5M94.2 47.5l8.9 2.5M202.4 75.4l6 -0.2M299.2 97.9l8.6 0.2M254 132.4l7.8 4.3M295.3 6.7l5.2 1.9M150.4 6.7l4.6 1.9M243.3 99.1l8.7 4M273.3 90.8l5.2 1" stroke="#0202ff" stroke-width="5.6"/>
<path d="M97 62.1l5.6 1.1M256 60.9l3.5 0.5M290 40.2l4.6 0.5M177.5 66.6l5.1 0.7M295.9 145.6l5.8 0.6M261.6 97.1l5.9 2M3.3 37.5l5.8 1.5M95.3 15.5l4.7 1.5M150.9 20.7l6.7 1.6M61.4 54.3l3.7 1M124 58.1l5 2.1M98.5 -3.4l10.2 1.3M52.5 29.6l4.5 0.4M335.7 28.2l6.2 0.6M327.8 95.9l7.1 3.6M232.4 49.3l8.9 2.8M319.2 26.4l4.9 0M164 9.3l3.5 0.4M331.7 153.6l7 0.1M309.9 0.5l7.1 3.1M348.5 40.1l5.5 1.7M328.1 8.7l3.4 1.2M240.3 13.7l10.3 1.3M111.5 17.8l4.2 2.3M292.4 79.2l3.8 -0M195.6 48.9l4.5 2.5M7.4 53.9l4 0.8M253.9 146.3l5.9 3.9M265.7 75.7l4.9 1.6M25.5 11.2l7.3 2.8M237.3 34.7l6.5 0.2M250.4 35.6l10.1 1.8M285.8 102.1l9.1 1.5M185.3 6.4l8.6 -0.4M334.5 133.4l5.3 0.9M307.5 83.3l8.7 3.4M213.8 41.2l10.4 0.3M244.8 0.4l3.5 2.5M176 38.8l9 0.9M212.4 9.5l4.5 1.2M118.1 5.1l6.1 1.9M257.4 0.7l7.1 2.1M168.2 50.7l8.4 2.4M66.9 64.9l7.9 2.8M114 46.9l6.2 1.9M298 113.2l5.2 -0.3M316.8 157.3l4.8 0.2M338.9 51.4l7.6 1.2M355.1 138.4l7.4 3.4M350.7 109.5l8 3.2M347.6 151.5l4.4 -0.1M42.1 14.6l8.1 4.1M303.1 65.1l9.3 0.7M160.5 65.2l3.8 -0.2M81.6 52.2l9 0.8M110 34.1l3.2 1.8M277.2 145.2l6.8 3.4M20.6 57.6l6.8 4.9M227.2 5.2l9 1.2M77.1 -2.2l4.2 -0.1M141.3 29.3l5.3 0.2M44.7 41.7l6.7 0.9M313.5 106.4l6.1 0.5M171.9 -1.3l3.9 -0.8M279.9 129.6l9.4 4M12 -1.6l8.3 -0.5M307.3 34.8l8.7 2.3M92.4 30.7l8.3 2.8" stroke="#0202ff" stroke-width="7"/>
</g>
</g><use href="#n2b" filter="url(#glow)" opacity="0.45"/></g>
<g id="n3">
<rect width="359.2" height="269.2" fill="url(#hz3)"/><g filter="url(#soft)"><g id="n3b" fill="none" stroke-linecap="round">
<path d="M30.7 239.1l-0.5 -3.2M38.4 214.2l0.9 -0.3M190.7 158.9l3.6 -2.6M119.6 197.1l0.9 -2.1M59 180.6l2.9 -1.2M330.7 209.4l-0.5 -3.5M256.1 202.3l3.4 -0.4M250.8 135.6l-1.9 -2.9M73.4 148.9l-0.1 -2.9M340.5 267.5l3.2 -2.6M260.7 271.2l0.8 -4.6M57.9 233.6l-3.1 -1.7M72.5 210.4l-0.5 -0.7M318.4 189.4l1.7 0.9M356.2 212.8l4.6 -1.9M134 250.2l0.9 -2.1M286.2 160.5l1.4 0M271 199.6l4.1 -0.5M70.9 173.1l-1.4 -3.9M3.9 118.6l-1.4 -1.4M54.3 265.4l2.4 -4.1M35.9 174.8l1.2 -1.5M106.2 177l3.3 -1.4M183.6 185.6l3.2 -1.9M308.6 155.8l4.4 -1M169.4 170.1l3 0.8M142.7 268.4l0.7 -1.2M335.7 189.7l0.7 -2.8M30.2 130.1l3.5 -3.4M313.2 130.3l1.3 -0.6M68.5 192.8l0.9 -2.9M283.1 238.3l0.8 -3.1M55.1 193.5l2.6 -2.5M122.1 272.6l0.8 -1M20.2 132.2l1 -1.9M339.6 173.4l0.1 -2.8M84.9 228.4l-0 -1.9M126.9 202.3l2.3 -0.4M206.7 262.3l0.3 -3.8M81.6 208.8l1.5 -4.2M327.1 154.4l2.4 -2.7M165.9 270.4l4.5 -1.8M125.6 263.7l0.3 -2.2M227.6 226.1l-0.2 -1.8M130.7 153.6l-0.6 -3.1M111.8 139.6l1.7 -0.7M95 143.5l3.2 -2.6M198 189.9l-0.2 -1.3M312.9 236l4.5 -0.8M167.1 238.5l4.3 -0.8M218.8 154.4l1.4 -3.1M335.3 247.1l-0.3 -4.6M18.9 247.9l3.3 -1.8M193.4 254.9l0.7 -0.6M94.8 206.3l3 -2M289.6 233.3l3.5 -2.2M182.2 126.9l0.4 -0.9M110.8 191l1.2 -1.5M238.7 146.9l1 -2.1M137 178.8l1.8 -0.9M64.8 215.1l1.1 -2.8M338.9 235.2l0.4 -3.4M143.8 258.1l2.3 -4.2M201.6 151.8l0.8 -1.1M323.5 228.6l-0.3 -4.4M285.8 180.2l2.9 -2.9M76.6 198.4l-1 -1.3M211.3 214.5l1.5 -0.6M263 133.6l1.1 -3M189.3 220l2 -2.9M169.4 212.2l4.2 -2.4M134.8 239.9l3.8 -0.9M318.5 137.5l0.8 -2.5M33.9 166l-2 -4.4M177.7 217.8l1.4 -1.9M250.6 271.7l1.9 -1.4M140.9 153l4.5 -1.4M264.4 219.1l2.9 -3M216.9 196.9l0.9 -0.3M276.5 249.4l0.7 -2.3M8.2 160.5l-1.1 -4M114.1 260.1l-0.9 -2.8M216.4 182.5l1.9 1.3M65.3 139.6l-0.4 -1.8M103.7 151.4l2.4 -2.3M64.6 232.1l1.4 -3.7M149.8 133.7l0.5 -0.8M217.6 238.2l2.8 -1.3M272.7 132.3l0.2 -4.3M135.3 143.6l3.8 -1.4M193 139.7l1.2 -3.2M9.6 196.1l3.4 -0.6M216.9 225.9l3 -1.5M167.9 145.3l-2.5 -4.1M251.5 157.5l0.3 -0.8M258.3 173l-3.6 -3.4M310.8 247.7l-0.3 -1.4M-0.4 193.7l3.3 -2.8M97.5 133.7l4 -1.6M255.5 152.4l2.2 -4.1M266.8 257.8l3.3 -0.9M100.8 185.7l2.4 -2.2M284.9 203.6l0.3 -1.3M91.4 156.3l-0.5 -3.3M300.1 187l0.9 -1.1M322.7 237.7l2.2 -2.1M200.8 216.2l1.5 0.8M105.9 239.8l-0.6 -2.2M154.6 263l0.7 -4.6M118.9 121.7l3.9 -1.2M276.1 262.7l0.3 -1.7M12.9 236.5l2.8 -0.7M348.4 233.9l-1.1 -4.2M345.8 245.9l1.2 -0.8M209 143.8l3.5 -1.8M322.8 144.1l0.9 -2.4M296.4 150.4l-0.3 -0.8M131.9 133l0.3 -1.9M324.5 200.7l0.9 -2.9M281.7 226.7l2.5 -1.9M297.7 163.7l1.7 -2.2M66.5 202.1l-0.4 -0.9M47.1 182.5l0.9 -1.2M251.7 196.9l0.1 -4.8M117.2 130.4l4.7 -1.5M304.9 200.5l4.1 -2.2M72.1 219.3l-1.1 -0.8M134.9 168l0.3 -0.8M271.6 211.5l0.6 -0.6M22.4 171.1l2.5 -3.5M320 250.5l0.7 -2.1M265 142.3l0.9 -0.4M324.9 184l1.3 -1.9M266.8 232.1l1.1 -2.4M171.4 149.4l2.6 0.8M356.7 267.3l2.8 -3.6M352.7 151.9l1 -2.1M108.5 202l1 -4.9M153.1 164.8l3.3 -3.1M76 232.1l0.2 -1.5M143.2 170.4l2.1 -2.3M321.6 268.7l3.1 -1M305.2 226.7l2.1 -1.8M186.3 148.1l1 -4.8M309.9 170.7l2.7 -0.8M139.8 127.1l1.3 -1.3M57.2 225.4l0.9 -3.1M203.1 269.1l0.1 -2.8M73.9 243.9l-1.3 -4M272.3 270.8l-1.1 -1.9M47.7 204.3l1.3 -0.1M304.6 130.6l-1.2 -4M303.3 136.4l0.6 -1.1M134.3 258.9l1.1 -2.7M276.6 190.6l3 -2.1M255.4 143.1l0.3 -1.3M6.8 172.2l1.9 -3M131.7 269.8l-0.8 -2M297.7 238.4l2.9 -2.2M173.7 188.2l2.7 0.3M32.6 149.4l0.1 -2M154.6 156.7l1.1 -2.7M142.5 235.2l1.7 -3.8M259.4 228.3l1.4 -1.4M291 140l-1.1 -3.8M261.7 178.9l2.4 -1.4M346.2 216.4l-0.6 -2.4M120.3 254.2l0.1 -2.6M238 188.7l2.2 -4.1M79.9 154.5l3.5 -3.1M332 262.4l1.5 -0.6M163 166.4l2.6 -2.2M170.7 128.9l1.5 -1M348.1 224.8l-0.6 -4.4M41.7 274l-2 -4.1M282.1 130.6l-0.9 -0.9M17 220.7l0.3 -3.3M23.7 224.2l0.4 -1.8M265.4 249.9l3.2 -2.8M122.4 140.2l3.9 0.6M280 153.7l1 -4.2M296.4 142.2l4.3 -2.1M245.7 262.4l0.7 -1M176.7 167.9l0.8 -1.7M45.3 194.4l-0.6 -3.1M256 235.2l1.3 -2M246.1 211.6l3.1 -1.8M125.1 164.6l4 -2.4M88.9 203.6l1.1 -1.5M346.8 157.4l2.1 -0.8M263.2 195.2l-0.6 -2.9M16.5 189.8l1.6 -1M59.4 128.3l1.1 -0.4M317.1 156.7l1.9 -2.2M200 143.2l0.9 -1.4M184 254.4l-0 -2.4M117.1 269.4l-1.9 -4M231.8 264.8l1.2 -1.1M1.7 210.2l0.5 -1.7M144.1 226.4l1.5 -0.6M202.1 175.4l3.9 -1.2M167.1 183.3l1.6 -2.2M338.1 142.4l2.6 1.4M151.1 241.6l1.1 -1.3M277.5 164.3l-1.3 -3.6M232.3 139l1.6 -1.8M13.4 172l4.3 -1.5M229.6 130.4l4 -0.7M327.9 136.4l1.4 -2M251.3 128.6l-0.4 -3.3M82 219.6l-3.3 -2.6M239.1 214l2.7 -3.6M335.8 217.4l1.6 -2.7M128.7 144.6l3.3 -1.3M229.9 162.4l3.1 -3.6M77.1 157.4l-4.1 -1.9M130.3 218.8l1.1 -0.1M294.1 215.1l2.8 0.3M244.8 169.8l-0.6 -1M274.8 180.6l4.7 0.4M359.1 234.7l1 -4.4M353 273.2l3.2 -2.5M263.8 152.5l2.3 -4.4M242.7 248.5l-0 -4.7M196.7 180.5l2.3 -0M170.6 123.7l0.1 -3.7M74.5 166.4l2 -3.4M228.2 245.6l1.2 -1.4M103.8 267.3l1.5 -1.6M113.9 244.4l3.2 0.6M96.4 194.4l1.6 -2.2M341.4 227.5l0.4 -3.8M263 186.5l0.3 -1M13.2 273.3l1.2 -2.3M361.4 241l-1.5 -1.5M305.2 150l-0.3 -1M110.8 122.5l2.9 0" stroke="#0000b0" stroke-width="5.4"/>
<path d="M44.5 142l4 -2.5M359.3 133.5l1.6 -1.4M105.9 225.6l3.6 -2.1M161.2 225.9l0.5 -4.7M234.2 169.1l0.4 -2.2M199.8 166.6l2.4 -0.9M4.9 248.6l1.4 -0.7M78.4 186.3l0.7 -1.6M230.4 152.1l2 -2.6M160 249.6l0.2 -4.3M161.2 125l3.5 -3.2M20.4 211.8l0 -4.1M164.3 158.3l3.2 -3.3M48 161.5l0.5 -2.3M242.1 225.4l3.7 -3.3M329.7 220.2l-0.7 -2.7M190.9 227.2l3.9 -2.1M33.2 224.5l1.3 0M182.6 160.2l2.3 -3.1M225.6 188l1.2 -1M311 185.6l1.9 -4.2M209.8 190.2l3.6 -2.1M-1.3 261.8l-0.8 -0.8M303.1 265.1l1.8 -2.1M349.6 199.8l-0.2 -2.6M165.1 258.7l-0.7 -2.1M138.6 219.5l0.9 -0.4M276.7 171.9l0.5 -2.4M161.5 200.9l1.3 -1.7M79.2 132.9l4.4 -1.7M138 135l1.7 -1.8M133 212l-0 -3.3M87.3 196.9l0.8 -1.3M56.9 272.8l1.2 -4.6M178.2 143.3l1.6 -2.2M22.7 124.5l3.3 -3.1M120.4 173.1l0.1 -2.3M263.1 162.3l-2.4 -3.8M218.9 133.1l1.6 -0.3M204.6 128.8l1.4 -0.8M172.7 247.4l1.6 -2.3M347.7 208.8l1.5 -3M317.7 262.3l-2.1 -3.3M350.1 179.2l2.3 -3.4M255.7 220.7l1.4 0.9M210 239.1l1.1 -2.7M155.6 184.9l4.7 -1.3M44 126.7l1.6 -4.5M125.8 182.9l1.9 -0.2M243.7 236.7l2.7 0.5M62 151.8l0.5 -2M149.6 175.1l2 -1.9M117.1 222.4l3.2 -3M242 158.6l0.8 -3.9M358.7 222.6l2.4 -3.5M176.2 178.4l-0.5 -2.4M214.3 272l0.5 -3.4M10 118.7l2.3 -3M282 142.8l0.7 -1.7M239.9 139.1l3.6 -2.4M143.5 209.5l2.3 -1.2M22.8 180.1l1.8 -3.3M161.5 175.1l-0.3 -0.9M80.6 120.8l-0.8 -3.8M118.5 181l1.2 -0.8M125.1 231.7l1 -1.9M177.5 260.2l0.8 -0.8M320.6 166.4l1.2 -2.2M303.8 176.5l1.5 -4.5M111.7 217.4l0.8 -1.7M189.3 242.9l4.3 -2.2M18.3 260.8l1.9 -3.2M303.6 244.2l1.8 -2.4M206.3 161.2l4.2 -2.4M207.5 252.4l-0.7 -4.5M121.1 246.2l2.7 -3.8M32.1 262.8l-0.4 -1M10.5 266.1l-3.5 -3.1M233.4 216.1l1 -0.3M313.5 219.4l1.1 -0.5M202.9 229.2l2 -1.7M258.8 243.6l1.9 -2.3M29.3 200.4l1 -1.8M45.2 224.1l0.4 -2.3M289.4 249.4l4.2 1.3M205 210.3l3.3 -3.7M219.7 261.7l-0.3 -3.9M55.6 210.8l0.3 -0.8M183 172.7l0.2 -1.9M146.6 249.8l2 -2.4M325.9 254.5l2.6 -3.8M167.8 223l3.2 -0M231.3 177.9l3.6 0.1M66.5 162l2.7 -4.1M182.5 230.1l3.5 -0.8M338.5 159.9l1 -0.3M211.4 133.3l1 -0.1M349 259.7l0.4 -3.1M21.9 195.8l0.7 -1.3M240.8 269.6l0.6 -0.5M33.4 188.3l-1.5 -4.6M48.6 132.6l3 -2.4M151.7 209.1l3 0.1M8.1 182.6l4.7 -0.2M156.4 128.4l-0.4 -1.6M329.3 236.4l4.3 -2.5M315.9 211.4l0.3 -1M23.2 153.3l-0.1 -1.9M154.2 146l3.5 -1.5M359.1 252.1l1.1 -4M236.3 196.2l1.7 -3.1M100.5 177.6l-0.8 -2.5M166.9 134.8l2.7 0.5M18.2 164.6l0.5 -3.6M239.8 127.6l-0.3 -4.9M354.5 139.3l1.2 -1M150.9 218.3l1.7 -0.6M272 238.5l4.5 0.7M115.5 235.3l2.3 1.3M102.5 253.7l3 -3.3M79.9 244.3l3.5 -2.5M14.1 203.7l2.8 -0.9M297.2 179.3l1.7 -1.9M209.6 171.6l1.9 -3.6M310.3 141l1.1 -4.7M90.1 184l-0.3 -2.1M108.6 166.7l-1.1 -4M184.5 271.7l3.8 0.9M114.3 149.4l3.6 2.7M248.4 181.2l3.3 -3.6M46.7 253l1.3 -1.7M40.6 262.5l0.3 -0.9M-3.4 168.6l1.2 -4.1M100.6 119.9l4.6 1.3M53.7 148.2l1.9 -2.2M224.8 214.5l0.9 -0.8M336.8 252l0.9 -1M253.1 253.4l-0.2 -3.1M273.2 154.5l-0.4 -2M215.8 176.4l2.4 -3M225.8 134.6l0.8 -0.5M46.5 239.3l0.5 -1.9M88.6 126.9l-0.7 -3.3M178.6 271.7l1.7 -1.4M338.5 208l-0 -0.9M278.4 219.8l-0.4 -3.4M96.4 214.8l2.7 -3.3M169.6 201.8l0.9 0.1M191.4 207.8l4.3 0.6M71 130.6l1.8 -1.5M201.5 199.8l3.2 -2.1M243.3 256.2l0.5 -1.7M87.3 256.7l0.1 -2.4M216.7 123.3l1.3 -0.7M51.9 219l-0.2 -1.6M351.3 245.1l4 -2.6M286.6 190.3l0 -2.4M165 195.8l1.3 -4.5M359.9 173.4l2.9 -0.9M38.6 155.4l2.7 -3.2M255.9 213.5l-0.6 -3M176.7 235.1l1.4 0.2M249.1 149.8l-1.9 -3.1M175.3 229.7l2.1 -4M69.3 182.1l-1.7 -2.3M98.6 158.2l0.6 -3.3M204.9 183.1l3 -1.3M263.7 206.7l1.1 -0.2M202 236.4l1.2 -0.4M260.3 127l-1.9 -3.8M310.9 193.4l2.5 -0.6M9.4 255.5l1.3 -1.3M284.8 265.6l-2.8 -3.9M310.1 163.7l3 -1.9M268.9 169.7l1.5 -4.6M328.4 196.4l3.3 -2.8M331.6 228l3.1 -3.1M87.3 237.1l-2.8 -2.3" stroke="#0000e0" stroke-width="5.8"/>
<path d="M228.8 206.5l3.3 -0.9M147.7 200.6l1.6 -3.2M348.2 192.2l-0.1 -3.5M309.5 254.8l2.2 -0.2M188.4 193.6l1.1 -0M32.9 119.8l2.5 -3.2M31.9 254.5l-2.6 -3.7M8.6 140.8l1.1 -2.3M191.3 171.8l3.1 -1.8M88.3 164.1l0.2 -3.7M92.6 117.8l4.8 1.1M293 261.9l0.2 -1.9M239.1 203.7l1.5 -0.5M120.5 210.9l1.2 -1.3M1.9 217.7l3.4 -0.3M184.1 202.8l4.2 0.2M84 146.9l-1.6 -4.5M347.3 168.3l1.6 -1.7M190.4 235.1l2.6 -3.4M309.9 268.1l1.3 0.2M9.2 208.2l1.6 0.3M1 183.7l2.3 -3.6M220.8 167.5l0.8 -3.1M235 236l2.7 -2.2M47.2 151.1l0.1 -2.1M299.9 253.6l1.2 -4.6M3.7 230.9l4.7 0.5M327.2 171.9l1.6 -3.6M22.3 139.4l1.2 -1.3M164.1 231.8l3.5 -2.9M141.6 187.8l0.3 -1.1M151.7 230l1.1 -2.4M21.3 270.8l-0.2 -1.9M2.1 129.9l-0.5 -0.7M109.5 207.7l2.3 -0M219.2 204.7l3.7 0.7M358.3 164.8l2.9 -1.4M49 230.8l0 -1.3M37.5 194.6l-0.1 -2M-1.3 240.7l1.2 -3M331.8 272.1l0.9 -1.4M14.6 125.7l-1.9 -3.2M59.8 247.3l1 -1M-1.9 227.8l1.9 -3M159.1 213.9l0.3 -0.8M327.7 130.6l-2.9 -4.1M10.9 153.3l2.3 -2.5M249.8 243.8l0.9 -1M260.1 256.6l0.6 -0.6M-0.3 159.7l0.9 -3.2M33.5 137.1l0.2 -1.5M53.2 175.9l0.6 -1.5M233.6 224.4l4.3 -1.2M4.8 150.3l0 -4.4M355.5 194.2l0.8 -4.7M183.1 240.9l1.1 -2.7M231.7 253.9l1 -1.7M88.4 174.8l-2.3 -3.1" stroke="#0202ff" stroke-width="6.4"/>
<path d="M192.7 75.1l5.6 -0.5M38.1 6.8l4.8 -2.5M81.5 13.9l8.7 0.4M262.6 100.6l9.6 2M65.3 66.3l7.2 -4.6M128 54.3l9 -1.3M168.7 5.4l6.8 -0.7M275.7 102.3l7.8 -1.1M151.5 90l6.3 -1.2M95.4 46.7l4.3 0.6M320.9 102.6l5 -1.2M266.3 7.8l9.9 -2.5M105.5 7.9l8.6 -0.8M287.4 126l9.8 -2.7M193.7 120l4.8 -0.5M257.1 61.9l6.4 -3.9M46.8 92.7l5.6 -1.4M145.6 109.2l4.5 1.7M246.3 99.3l4.5 -2M-2.9 58.4l3.9 -2.4M238 41.4l4.4 -1.5M111.9 112.5l3.2 -2.5M347.9 6.4l8.6 -0.7M169 21.6l5.8 -1.9M4.3 31.6l6.1 -4.8M341.4 125.8l5.6 2.2M33.4 42.2l9.8 -1.9M219.2 112.4l4.5 -2.5M155.3 12.6l5.7 -0.7M121.8 34.4l9.4 2M121.7 -0.5l5 -0.3M302.9 22.4l9.7 -3.9M102.9 90.6l8.7 1.3M255.2 22.6l6.7 -2.5M94.4 104.9l5.6 -0.7M205.9 94l4.1 0.4M122.8 101.1l4.9 -0.4M73.6 48.9l6.2 -1.9M268.9 116.5l3.5 -1.8M148.3 -1l6.5 2.7M281.5 88.6l3.9 0.3M17.8 32l6.5 -2M184.2 61.7l9.6 0.8M187.5 5.6l4.7 1.3M318.7 44.4l9.6 -3.2M53.8 30.5l5.4 0.6M237 -1.6l8.4 0.6M20.3 -2.6l4 -0.7M240.2 74.3l10.4 -0.7M60.7 5l6.7 -1.2M-1.3 17.2l9.7 -1.2M216.1 53.3l4.7 -1.3M148.7 26.1l7.6 0.1M95.7 -2.3l9.5 3.7M158.5 108.5l7 -1.6M249.6 41.8l7.2 0.3M166.2 86.1l6.7 0.7M181.7 108.7l5.9 -0.9M199.8 60.3l3.5 -1.3M260.8 33.8l4.7 1.6" stroke="#0202ff" stroke-width="5.6"/>
<path d="M4.7 41.9l8.8 0.4M17.1 113.2l5.4 -2.6M114.3 46.2l9.2 0.3M233.4 110.8l7.1 -1.1M67.7 35.2l9 0.1M314.1 92l3.4 -2.7M290.9 107.1l3.2 1.6M350.2 32.6l8.6 1.6M218.2 32.7l9.1 4.3M25.6 85.3l10.4 1M286.5 43.5l8.9 3M266.2 82.2l3.7 -3.9M219.5 66.5l4.1 2.2M189.6 32.7l5.9 -0.5M212.3 2.7l5 -1M80.2 70.5l6.6 -0.9M106.6 57.5l7.2 3.3M119 85.9l6.1 1.7M237.3 57.7l6.8 -4.7M11 77.2l4.4 0M26.6 10.9l6.1 0.1M306.2 119.1l7.2 0.5M210.8 22.8l4.6 -1.8M280.3 23.3l6.9 -2.1M34.9 101.5l9.1 1.3M89.7 64.2l7.4 -0.4M298.4 1.1l4.3 0.2M79.8 107.9l8.4 -0.6M133.1 87.1l8.1 0.7M332.3 28.4l6.9 0.9M232 27.2l7.2 -0.1M334.2 12.4l9 -1.1M291.3 83l8.6 1.9M172.2 59.5l7.1 -0.2M188.4 95.4l7.4 1.6M67.6 23.6l7.5 0.1M214.8 91l10 -2.3M99.6 21.1l6.5 4.2M304.6 38.1l5.3 -0.9M230.7 80.7l8 3.2M343.6 48.9l3.6 -1.6M332.4 100.9l8.1 3.7M56.7 77.3l4.8 0.7M181.9 85.2l4.7 -1.9M134.5 22.4l7.9 2.9M74.3 80.2l4.7 -0.4M319.1 28.9l4.5 0.2M203.9 41.1l6.3 0.2M49.5 114.5l7.2 0.8M137.7 36.8l5 0.6M120.9 19.4l3.9 0.1M252 86.6l5.1 -4.3M319.3 2.8l4.1 -2.6M245.4 13l5.1 -4.2M345.2 22.3l8.4 -1.1M88.5 27.6l4 -1.5M37.3 77.3l8.6 -3.2M206.6 111.6l5.1 -0.1M279.3 0.2l7.4 -0M207.7 74.3l4.4 -1.3M26.5 68.3l6.3 -3M273.3 37.5l7.8 -1M-4.8 88.7l7.8 -6.1M82 40.3l4.2 -1.4M175.1 39.8l5.8 2.6M324.2 13.3l4 -0.2M-0.1 4.3l4 -1.2M224.5 5.7l4.1 2M358.4 119.8l4.5 -4.4M300.9 52.3l5.1 1.3M187 50.3l6.1 1.4M337.2 -0.5l9.9 -1.2M132.7 0.8l7.2 -5M71.4 8.1l8.6 -4.7M161 42.4l7.9 0M288.1 96.4l6.3 1.6M10.8 12.6l9 -0.3M279 74.8l4.3 -2.1M244 115.3l9.9 -1.4M-6.4 72.5l8.9 0.3M16.9 54.1l6.2 -0.6M280.2 58.1l8.6 -3.3M306 103.8l8.5 0.1M253.4 0.6l4 -3.5M46.2 17l3.8 -0.3M341.9 113.6l10.4 -0.5M132.8 10.4l7.7 2.6M288.2 30.3l6.1 4.2" stroke="#0202ff" stroke-width="7"/>
</g>
</g><use href="#n3b" filter="url(#glow)" opacity="0.45"/></g>
</defs>
<rect x="78.8" y="1613.9" width="359.2" height="269.2" fill="#000"/>
<g transform="translate(78.8 1613.9)" clip-path="url(#ic)"><use href="#n1"/></g>
<rect x="449.4" y="1613.9" width="359.2" height="269.2" fill="#000"/>
<rect x="820.2" y="1613.9" width="359.2" height="269.2" fill="#000"/>
<rect x="1191.1" y="1613.9" width="359.2" height="269.2" fill="#000"/>
<g transform="translate(1191.1 1613.9)" clip-path="url(#ic)"><use href="#n1"/></g>
<rect x="78.8" y="1894" width="359.2" height="269.2" fill="#000"/>
<g transform="translate(78.8 1894)" clip-path="url(#ic)"><use href="#n2"/></g>
<rect x="449.4" y="1894" width="359.2" height="269.2" fill="#000"/>
<rect x="820.2" y="1894" width="359.2" height="269.2" fill="#000"/>
<rect x="1191.1" y="1894" width="359.2" height="269.2" fill="#000"/>
<g transform="translate(1191.1 1894)" clip-path="url(#ic)"><use href="#n2"/></g>
<rect x="78.8" y="2173.9" width="359.2" height="269.2" fill="#000"/>
<g transform="translate(78.8 2173.9)" clip-path="url(#ic)"><use href="#n3"/></g>
<rect x="449.4" y="2173.9" width="359.2" height="269.2" fill="#000"/>
<rect x="820.2" y="2173.9" width="359.2" height="269.2" fill="#000"/>
<rect x="1191.1" y="2173.9" width="359.2" height="269.2" fill="#000"/>
<g transform="translate(1191.1 2173.9)" clip-path="url(#ic)"><use href="#n3"/></g>
<rect x="449.4" y="1894" width="359.2" height="269.2" fill="#0a3a0a" opacity="0.22"/>
<rect x="449.4" y="2173.9" width="359.2" height="269.2" fill="#0a3a0a" opacity="0.16"/>
<path d="M657.7 1769.7h1.4M617.4 1845.1h1M528.2 1734h1.1M527.4 1766.3h1.5M477.2 1734.3h1.2M581.9 1746.6h0.8M567.6 1694.9h0.4M604.3 1689.5h0.5M491.5 1759.5h1M764.1 1661.4h0.7M586.4 1683.3h1M454.7 1749.9h0.7M641.4 1721.2h1.1M455.7 1735.4h0.9M506.6 1756.9h0.2M505.6 1733.6h1.1M709.6 1681.1h0.8M628.5 1780.4h1.3M562.3 1777.8h1.1M454.5 1672.8h0.2M463.7 1660.7h1.3M748.6 1823.5h0.3M701.7 1740.5h1.2M502 1639.8h0.4M732.3 1719.4h0.7M766.6 1624.9h0.3M790.5 1759.9h0.2M646.1 1697.8h1.1M576.2 1763.6h1.3M484.4 1740.8h1.4M540.7 1733.6h1.5M770.7 1749.6h0.5M486.2 1669.1h0.1M676 1643.8h1.3M614.5 1647.6h0.4M548.9 1690h1M647.5 1684.3h1.4M554.2 1717.3h1.1M768.2 1713.8h0.4M475.8 1736.4h0.3M494.9 1701.4h0.7M687.3 1765.9h1M695.1 1679.9h0.9M497.4 1780.8h0.9M564.8 1691.5h0.4M606.1 1656.4h0.7M557.3 1741.9h1.5M713.7 1730.9h0.7M687.9 1717.9h1.4M725.5 1802.7h0.8M799.8 1741.8h0.7M612.1 1719.1h0.5M670.1 1776.8h1.3M474.2 1790h1.1M546.3 1679h1.5M734.3 1670.2h0.6M710.2 1773.2h0.7M546.1 1788h0.4M529 1733.2h0.4M520.3 1706.1h0.3M710.2 1665.8h1.4M610.9 1689.6h0.2M519.3 1650.6h1.4M633 1719h0.4M661.7 1767h1.4M771.6 1709.6h0.9M622.3 1743.1h0.2M668.3 1743.9h1.1M803.3 1616.9h0.7M499.7 1634.2h0.2" stroke="#10c020" stroke-opacity="0.18" stroke-width="2.2" stroke-linecap="round" fill="none" filter="url(#soft2)"/>
<path d="M504.7 2001.7h1.1M667.1 2004.6h0.6M670.5 2012.5h0.8M671.3 2021.5h0.8M763 2023.3h0.4M497.6 1971.2h1.2M696 1979.2h0.8M530.8 1988.1h0.8M503.7 1968.1h1M539.4 1971h0.2M570 2001.6h1.1M604.6 1963.2h0.7M773 2048.7h0.9M675.4 2063.6h0.7M649.5 1946.6h1.3M743.8 2060.7h1M618.5 2089.6h1M759.1 2007.7h1.1M590.4 2025.1h1.4M672.5 1948.5h0.8M796.4 1969.8h1.4M785.8 2018.3h0.3M478 2105.6h0.6M542.4 1933.2h1.1M784.4 2043.4h1M530.4 2091.4h0.7M502.9 1986.1h0.2M589.8 2034h0.3M494.4 2064.6h0.5M709.6 2078.6h0.7M538.3 2047.5h1.1M523.6 2074.6h0.8M737.3 2060.3h1.3M679.3 1970.7h0.4M485.2 2079h0.6M748.2 2120.3h1.5M777.1 2021.4h0.5M529.7 2030h1M700.3 2110.2h1.4M677.8 1984.8h0.8M747.9 2013.1h1.1M758.6 2130.3h0.2M519 2059.8h0.7M664.9 2018.4h0.8M763 2080.6h0.3M775.4 2013.6h0.7M540.2 2033.8h0.9M551.6 2034.7h0.9M778.9 1897h0.2M720.1 2043h1.2M791.1 2097.7h0.9M663.7 2042.2h0.8M548.8 2128.1h1.1M791.2 1959h0.9M480.5 2019h1.2M681.5 2002.4h0.4M506.2 2062.3h1.5M532.9 2043.8h1.3M499.9 1993.2h0.6M793 2085.4h0.4M623.2 2036.5h1.1M572.2 2055.9h0.8M697.1 2045.4h1.1M803.4 2039.1h0.1M612.1 2140.6h1.5M639.3 2024.8h1.5M472.2 1915.5h0.6M608 2048.7h0.7M586.5 2089.9h0.4M566.3 1897h1.2M715.2 2063.8h1.4M750.8 1946.2h1M552.6 2129.6h1.3M767.3 2088.5h0.5M713.2 2065.1h0.1M513.9 2011.6h0.4M692.6 2076h1.1M798 1929.9h1.5M607.6 2111.7h0.4M659.1 1983.9h0.3M593.6 2031.8h0.9M606.3 2020.9h0.5M475.2 1975.8h0.2M594.2 2020.8h1.1M480.5 2034h0.8M581.9 2004.5h1.3M767.8 2024.6h0.6M743.7 1979.3h0.8M676.8 2022.3h0.6M789.5 1990.5h0.6M752.1 2034.2h0.8M552.4 2036.9h0.9M724.3 2096.2h0.6M772.4 2045.4h1.3M764.8 2025.7h1M644.6 1974h0.6M554.8 1953.7h0.4M578.1 1927.2h0.3M581.4 2008.5h1M573.8 2045.5h1.2M538.1 2012h0.3M583.2 1897h1.5M594.9 2012.4h1.3M567.5 2058.7h1.3M649.5 2107.9h1.4M716.9 2160.2h0.9M718.6 2065.8h0.4M721.7 2015.9h0.7M800.3 2064.8h0.3M668.5 1966.5h0.9M657.4 2040.8h1.3M662.6 1962.2h0.3M742.3 2091.4h1.4M521.4 2140.9h0.4M700.5 1973.3h1.2M570.9 2044h0.3M647 2136.3h0.2M715.9 1924h0.6M795.4 2007.3h0.6M634.4 2046.1h0.3M724.3 1982h0.4M625.9 2114.2h1M525.4 2000.9h0.7M575.5 2138.5h1M696.6 2078.9h1.3M767.8 1971h1.4M777.1 1997.3h0.6M490 1942.7h1.4M598.7 1989.4h1.2M745.5 2092.2h0.3M729.3 2160.2h1.4M654.4 1969.3h1.3M661.1 2132.8h0.6M496.1 1897h1.2M783.7 2083.1h0.7M496.4 1991.3h1.3M548.4 2048.4h1.4M599.2 2047.6h1.2M477.2 1931.2h1.2M519.6 2040h0.8M739.5 2051.1h0.9M766.6 2015h1M729.8 2008.4h0.1M734.4 2094.5h0.9M516.3 2066.7h0.1M708.3 2013.9h0.2M685 2036.9h1.1M669 2038.2h1M702.7 2021.1h0.7M661.6 1992.5h1.3M680.4 1919.3h1.3M540.6 2037h0.4M454.4 2056.9h0.9M638.1 1999.2h1M783.8 2008.5h0.7M517.8 1998.2h0.6M713.9 1980.5h1.3M804.9 1960.6h0.5M700.2 2020.2h1.5M593.3 2017.6h1M533.4 2002.3h1.5M467.2 2042.3h0.2M709 1982.2h1.4M699.2 2004.5h0.7M703.8 2139.5h0.6M725.9 1982.2h0.4M588.7 2125h0.7M644.4 2024.4h0.7M702.2 1964.2h0.7M763.1 2019.5h1.2M538.1 1926.7h1.1M664.7 2104.8h1M523.6 1939.3h0.7M597 1988.1h0.7M664.1 2049.6h0.2M725.6 2136.5h0.8M540.9 2028.3h0.3M803.1 2075.5h0.5M482.2 1940.4h0.5M534.1 1897h0.9M567.6 1953.9h1.5M585.6 2048h0.6M702.4 1919.2h0.7M677 1976.6h0.8M665.6 1993.4h0.3M592.6 2031h1.5M632.3 1964h1.2M577.5 2028.9h0.6M571 1967.7h0.9M783 1999h0.6M673.1 2126h1.3M739.3 2024h0.4M676.1 1997.3h0.3M728.4 2074.4h1.4M756.9 1906.6h1.2M669.9 2080.7h1.2M726.9 2110.8h1M579.2 2034.6h1.2M713.1 2077.9h0.1M584.7 2060.4h0.3M453 2000.5h0.3M794.8 2118.4h0.4M745.3 2013.3h0.8M749.4 2148.6h0.7M551.2 2037.6h0.3M501.7 2020.7h0.9M720.6 2030.7h1.3M454.2 2106.7h1.2M501 2096.7h0.6M591.9 2040.2h1M457.7 2002.2h1.4M619.6 2008.3h0.4M637.6 2009.2h1.2M604.4 2040.5h1.3M720.3 2095.9h0.5M652 1898.9h0.9M670.6 2025.9h1M665.5 1928.1h0.9M502.5 2024.5h0.9M666.3 2058.2h0.4" stroke="#10c020" stroke-opacity="0.22" stroke-width="3.2" stroke-linecap="round" fill="none" filter="url(#soft2)"/>
<path d="M798.2 2204.2h1.1M528.3 2320.6h0.2M665.3 2336.9h1.3M760.4 2335.3h0.3M481.4 2314.2h0.1M531.9 2404.5h0.3M497.5 2257.7h0.7M711.4 2289.5h1.1M599 2312.4h1.3M540.3 2219.8h0.6M657.4 2372.5h0.8M541 2267.6h0.5M528.6 2418.2h1.4M639.1 2284.5h1.1M557.1 2262h0.7M541.7 2298.9h0.2M777.1 2384.1h1.1M484.2 2356.9h0.8M804.1 2371h1.2M702.7 2288.8h0.5M646.6 2246.4h1.2M609.3 2261.1h1.1M475.2 2278.2h1M760.6 2301.1h0.9M652.1 2264.4h0.6M656.7 2265.3h1M586.6 2242.5h0.9M691.2 2302.6h0.6M694.3 2337.8h1.5M561.7 2235.4h1.4M516.6 2223.7h0.1M669.4 2377.6h1.3M785.8 2272.5h0.6M675.3 2245.4h0.2M462.3 2356.3h0.3M603.8 2238.7h0.5M759.4 2273.6h1.1M565 2387.7h0.5M636.5 2230.8h0.6M733 2341.9h0.7M500.5 2314.3h1.1M645.4 2176.9h1.3M782.2 2363.4h0.1M570.2 2299h0.4M615.4 2243.2h0.5M456.5 2189.5h1.5M728.6 2267.6h0.2M782.3 2286h0.8M756.2 2315.8h1.2M541.9 2198.5h0.4M605.6 2306.7h1.2M657.1 2190.4h0.8M521 2251.9h0.8M709.1 2220.4h1.5M785.7 2333.2h1M696 2325.4h0.5M781.1 2197.2h0.2M551 2319.6h0.1M731.8 2176.9h0.9M567.2 2275h0.6M584.9 2304.1h1M563.2 2321.8h0.7M702.9 2285.4h0.6M566.9 2358.1h1M487.2 2272h1M557.6 2311.9h1.5M622.9 2257.1h1.2M699.9 2233.7h1M463.7 2357.1h0.7M797 2371.9h1M743.2 2290.5h1M783.6 2176.9h0.7M546.8 2329.8h1.4M684.8 2323.9h0.2M462.2 2223h0.6M459.4 2313.3h0.5M762.1 2278.2h0.5M688.3 2187h0.4M559 2334.5h0.5M529.3 2283.9h1.3M695.2 2197.8h0.7M775.9 2232.6h1.2M558.2 2301.5h0.7M731.4 2368.3h1M714.7 2258.1h1.1M799.1 2267h1M703.5 2298.1h0.7M662.1 2324.6h1.1M619.8 2270.5h0.2M495.4 2288.1h0.5M538.3 2328.6h0.6M743.5 2337.1h1.4M803.4 2294.3h0.4M805.2 2286.2h1.1M755.4 2308.7h0.2M637.8 2336.8h0.6M618.7 2303.8h0.6M779.7 2305.4h1M654.3 2353.3h0.6M675.1 2319.4h0.7M735.6 2280.2h0.1M504.1 2389.5h1.2M753.8 2282h1.4M661.5 2332.2h0.2M801.7 2249.3h0.8M582.9 2274.9h0.9M598.6 2226.7h0.5M745.7 2362.6h1.1M785.6 2361.7h1.1M516.8 2392h1.4M629.9 2312.8h1.5M735.8 2331.6h0.4M767.6 2383.9h1M759.4 2316.7h1.4M710.8 2331.7h1.4M604.2 2240h1.1M717.6 2204.7h1.1M508.7 2357.1h0.9M624 2283.2h1.1M592.6 2286.9h1.1M537.6 2360.8h1M727.4 2303.6h0.9M763.4 2310.7h0.7M684.6 2321.1h1.2M475.4 2250.3h0.8M487.1 2263.2h0.3M677.4 2207.6h0.8M575.8 2431.3h0.4M638.3 2249.6h1.5M632 2291.9h1.2M694.1 2308.7h1.4M663.6 2271h0.3M662.4 2353.2h0.2M469.5 2316.9h0.7M748.7 2302.7h1.2M670.6 2176.9h0.9M791 2344.3h0.9M457.4 2347.2h1.3M692.5 2238.7h0.8M709 2384.1h0.9M756.2 2269.3h1.2M533.9 2294.3h0.9M782 2291.4h1.3M793.7 2272.9h0.8M542.3 2224h0.2M751.6 2311.6h1M593.8 2309.5h1.3M755.8 2261.5h0.8M492.2 2268.5h0.9M502.7 2304h0.8M596.9 2260.3h0.8M764 2365.2h0.7M655.3 2290h0.9M516 2260h0.8M632.1 2421.1h0.5M753.9 2210.7h0.6M540.7 2253.7h1.4M770.8 2266.4h0.1M800.1 2319.7h1M649.5 2274.3h0.3" stroke="#10c020" stroke-opacity="0.2" stroke-width="2.8" stroke-linecap="round" fill="none" filter="url(#soft2)"/>
<path d="M1162.3 1846.4h1.1M903.6 1703.9h1.1M1108.1 1621.3h0.3M1139.5 1648h1M939.7 1786.8h1.3M1028.6 1719.8h0.6M1042.7 1782.3h0.7M987.9 1758.1h0.5M886.7 1766.6h0.2M1034.3 1827.9h1.3M912.3 1726.1h1.4M946.8 1877.9h0.4M1120.2 1627.7h1M1107.7 1761h1M1145.9 1879.1h0.4M1007.8 1627.4h0.6M874.4 1659.1h1M853 1657.4h0.1M1110.5 1681h0.2M1042.5 1805.8h1M1016.5 1757.6h1.1M932.8 1838.7h1.1M1126.3 1851.3h1.3M1006.6 1754.4h1.1M1027.7 1624.2h1.4M893.5 1744.4h0.7M856.1 1769.1h0.9M1110.4 1778h0.5M1022.7 1869.4h1M1121.2 1619.9h1.1M897.8 1659.7h0.6M886 1639.5h0.4M904.6 1682.6h1.2M852.6 1669.6h0.2M1002 1677.2h0.8M907.2 1668.6h0.8M848.5 1849.7h0.9M962.8 1761.6h1.4M997.8 1720.6h0.4M957.6 1820.6h1M920.6 1853.4h0.3M948.9 1821.2h1.4M985.4 1619.8h0.9M974 1624.6h0.6M1134.7 1626.7h0.3M882.2 1826.9h0.5M1065 1794.6h0.1M977.9 1648.2h1.2M996 1713.9h1.2M1113.6 1634.9h0.2M937.3 1699.3h0.7M974.2 1872.8h1M1162.8 1779.6h0.4M1023.7 1659h0.9M873.6 1861.9h0.5M1139.1 1674.9h0.4M910.2 1833.7h1.3M1086.4 1768.2h0.3M907.4 1625.5h1.4M868.4 1805.3h0.1" stroke="#d01010" stroke-opacity="0.12" stroke-width="2" stroke-linecap="round" fill="none" filter="url(#soft2)"/>
<path d="M1133.3 1973.1h1.4M933.5 2105.9h1.2M941.4 2054.3h1.2M875.3 2071.3h1M947.3 2056.4h0.6M985.8 2078.5h1.3M1148.3 2051.4h1M1162.2 2160.2h1.2M1008.9 2027.9h1.5M1043.9 2152.6h0.3M1113.9 2039.2h1.5M1167.8 1918.3h1.1M961.8 1966.1h1.2M1044.4 2015.8h1.3M1005.3 1911.6h1.2M1152.1 1954.3h1.1M867.1 1989.6h0.5M868.1 2050.4h0.3M993.1 2050.8h1.5M1028.8 1922.7h0.1M890.8 2130h0.5M1078.8 2066.7h0.7M1029.4 2075.6h0.2M1047.5 1965.4h0.6M1168.1 2024.2h1.4M969.4 2068.4h0.2M1104.4 2083.3h0.3M1129.1 1998.1h0.6M910 2135.6h0.4M865.7 2058.7h0.6M1070.5 2065.7h1M918.6 2027.9h1.3M995.3 1987h0.8M989.6 1934.7h0.1M881.7 1996.3h0.9M840.6 1943.4h1.1M1123.1 2084.1h1M946.7 1958.1h0.6M890.4 1998.2h1.2M905.2 1990.2h0.5M853.5 2011.1h1.3M1147.1 2120.3h0.1M1065.2 1982.5h1.4M1064.2 2009.5h0.5M1116.6 1971.8h0.8M991 2050h0.1M1112.9 2009.7h0.3M1023.9 2084.3h0.2M833.7 2055.8h1.1M1078.2 2135.8h0.2M982.6 2020.8h0.7M850.3 1940h0.6M1158.1 2085.9h0.6M1035.7 1981.4h0.9M986.4 2070.3h0.2M1081.8 1973.2h1.1M859.1 1897h1M1061.2 2005.8h0.8M973.2 2072.2h0.7M856.6 2024.9h0.8M1057.2 1974.9h0.5M896.7 1897h0.6M941.5 2060h0.8M1176.1 2009.5h0.7M985.2 1987.1h0.5M1118.8 2051.8h0.1M846.6 2058.8h0.7M992.8 1947.7h0.8M913.8 1982.4h0.9M942.1 2049.1h0.9M837.7 2037.3h0.8M956.1 2028h0.3M1167 1995.8h0.6M890.1 2039.5h0.9M1175.9 2066.5h1.1M1022.2 2019.9h1.2M878.5 2054.9h1.4M842.2 2036.3h0.2M986.6 2059.5h1.4M887 2041h1.2M1121.2 1972.6h0.4M938.8 2044.6h0.8M1024.7 1978.6h1.3M985.2 2018h0.6M991.4 2068.8h1.1M1114.9 1967.3h0.6M1078.2 2079.6h0.7M961 2063.8h0.3M1106.6 1999h0.3M1128.9 2073.6h1.3M887.5 1994.9h0.4M1116.5 2057h1M1144.4 2010.4h1.2M860.8 1983.7h0.9M1005.1 2067.7h0.8M866.8 2049.6h0.2M1040.6 2099.4h1.5M994.7 2017.8h0.2M881.4 1923.3h1.2M1167.6 2058.9h0.9M1089.9 1997.8h0.9M921.5 2018.6h1.2M1112.3 2033.7h0.5M830.3 2056.8h0.4M1161.3 2079.5h1.3M890.6 2002h1.5M1024.7 1995.6h0.1M1014.4 2000.3h1M1071.7 2048.7h0.1M1063.6 1907.7h0.2M1122.4 2022h0.7M1120.3 2027.3h1.3M1148.9 1946.9h1.1M997.4 2021.5h1.2M881 2037.6h1.1M1168.7 2102.6h0.2M1175.6 2010.7h1.1M1173.3 2076.9h0.4M962 2113.2h0.7M917.6 1967.5h1.2" stroke="#e01010" stroke-opacity="0.25" stroke-width="2.4" stroke-linecap="round" fill="none" filter="url(#soft2)"/>
<path d="M1074.2 2316.5h1.4M1113.2 2302.7h0.2M1108 2320.2h1.5M951.7 2275.8h0.7M1054.1 2275.8h0.5M994.1 2225.5h0.3M920.3 2287.3h0.6M1111.1 2309.7h0.4M976.3 2394.1h0.2M887.4 2329h1.1M979.4 2238.8h0.8M973.2 2284.3h0.3M873.4 2320h0.5M1138.2 2347.1h0.4M869.5 2305.1h1.3M1159.9 2336.9h1.2M1160 2252.2h0.6M1053.7 2290.3h0.4M1008.1 2247h1.3M1055.7 2359.7h0.3M1032.8 2300.7h0.2M856.4 2242.1h0.9M1076.6 2221.6h0.9M1114 2311.3h0.4M1116.9 2308.2h0.4M926.9 2282h1.2M1048.7 2388.4h0.5M1128.2 2344.8h0.5M859.2 2279.2h0.7M1012.9 2360.8h0.3M919.8 2440.1h0.8M924.4 2349.5h0.3M1036.7 2340.1h1M1009.6 2309.5h1.1M1122.7 2267.3h1.2M1115.2 2390.1h0.8M1092.9 2342.8h0.9M1019.2 2316h1M969.8 2353.5h0.4M1058.6 2323h0.4M1091.6 2256.4h1M1137.2 2296.5h0.6M843.3 2337h1.3M991.5 2274.3h0.7M1120.7 2389.7h0.5M1097.2 2379.3h1.4M1119 2234.9h0.8M928.3 2429h0.6M853.2 2268.6h0.9M1135.9 2265.8h0.7M833 2289.9h0.9M1014.9 2295.1h0.7M1056.5 2351.6h0.4M899.2 2335.2h0.3M901.3 2399.2h1M1097.2 2190.9h0.1M943 2287.2h0.2M1173.3 2192.9h1.5M854.9 2210.8h0.6M881.4 2376.4h0.9" stroke="#e01010" stroke-opacity="0.2" stroke-width="2" stroke-linecap="round" fill="none" filter="url(#soft2)"/>
<path d="M524.4 1769.1l-0.2 0.3M484 1722.8l-0.2 -0.2M470.1 1765.8l-0.5 -0.1M560.4 1688.3l0.6 0.2M562.7 1735.8l0.6 0.1M626.5 1686.2l0.3 0.1M636.7 1685.1l-0.9 0.4M637.5 1711.6l0.3 0.3M589.7 1778.8l-0.7 -0.8M579.9 1772l-0.5 -0.3M570.3 1832l0.2 -0M718.7 1693l0.3 -0.4M760.5 1729.6l0.2 0.2M786.2 1669.1l-0.3 0.9M798.6 1647.3l0.3 0.7M730.9 1646l-0.3 -0.4M802.4 1728l-0.2 -0.1M803.4 1763l0.4 0.1M682.5 1699.7l-0.3 -0.5M619.3 1749.6l-0.3 0.7M800.3 1822.3l-0.5 0.1" stroke="#18e028" stroke-opacity="0.4" stroke-width="1.8" stroke-linecap="round" fill="none" filter="url(#soft2)"/>
<path d="M495.7 1723.1l0.2 -0.8M522.5 1718.8l0 0.7M582.3 1686.3l-1 -0.2M573.1 1706.7l-0.1 -0.5M546.6 1795.2l0.3 -0M593.2 1815.6l-0.8 0.4M611.9 1873.5l0.4 0.5M690.8 1749.8l0.8 0.2M703.4 1782.8l0.1 -0.7M720.9 1709.2l0.3 -0.3M728.6 1709.9l-0.3 -0.7M739.8 1779.9l-0.5 -0.3M755 1702.9l0.6 -0.9M759.6 1761.7l-0.8 0.1M797.5 1678.2l0.8 0.3" stroke="#18e028" stroke-opacity="0.75" stroke-width="2.1" stroke-linecap="round" fill="none" filter="url(#soft2)"/>
<path d="M455.7 1731.5l-0.7 -0.9M470.6 1751.4l0.2 -0.4M495.2 1743.1l-0.6 0.5M605.2 1705.1l0.6 0.1M630.1 1733.1l0.2 0.3M650.4 1734.8l0.8 0.3M630.9 1775.2l0.3 0.3M619.5 1786.9l-0.8 0.6M553.9 1797.2l0.5 0.3M671 1777.7l-1 -0.3M692.3 1761.8l0.4 -0.9M778.6 1696l-0.1 0.6M792.9 1705.2l-0.6 0.8M788.9 1717.5l0.3 -0.1M793.4 1870l0.2 0.4" stroke="#18e028" stroke-opacity="1.0" stroke-width="2.5" stroke-linecap="round" fill="none" filter="url(#soft2)"/>
<path d="M453.1 1898.6l0.1 1M501.7 1919.4l-0.5 -0.3M537 1924.5l0.9 0M645.9 1936l-0.8 0.8M701.5 1945.8l1.2 -0.4M718.6 1956.6l-1.2 -0.1M712.3 1904l-0.1 -0.3M483.3 1981.2l1.2 -0.9M486.9 1990.9l1 -1M496.5 1991.9l-0.7 0.5M527.3 1990l1 0.7M540.9 2000l0.3 0.1M547.5 1996.8l0.1 0.4M538.9 2007.8l-0.2 0.2M567.1 2008l0.4 0M582.4 2002.5l0.6 0.5M584.1 2014.4l1.6 0.3M589.5 2016.9l-0.3 -0.3M595.9 2020.7l-0 0.8M569.7 2023.2l-0.3 0.3M552.8 2027.1l1 -1.5M517.3 2026.3l-1 0.2M509.2 2036.8l0.3 0.2M526.7 2042.8l-0.3 0.5M461.8 2025.7l0.2 -0.4M463.3 2050.4l1.7 0.2M460 2014.6l-0.4 -0.1M609.2 1983.8l-0.2 -0.1M621.8 1999.3l-1.7 -0.3M626.2 2001.9l0.9 -1M650.8 1997.9l-0.1 0.8M663.6 2000.7l0.7 1.2M707.3 1994.9l-1.4 -0.3M632 2024.4l-0.3 0.5M639.5 2026.3l0.7 -1.6M650.3 2033.1l0.9 -1.2M659.3 2039.3l0.6 -1.3M668.3 2025l0.1 1M609.1 2027.6l-0.2 0.2M598.6 2029l0.6 0.1M571.8 2037.2l-0.1 1.3M555 2048l0.9 -0.2M539.3 2050l1.6 -0.7M518.7 2053.3l0.8 -0.2M568.6 2052.9l0.1 0.6M602.4 2052.5l0.2 0.5M614 2056l-1.2 -1.2M635.1 2056.7l0.5 -0.8M653.4 2053.8l-0.8 -1.2M678.8 2050.7l1.1 0.6M692.8 2045.7l1.2 -0.8M701.3 2056.7l0 -1M619.7 2062.2l0.6 1.3M619.1 2072.3l-0.7 1.3M559.5 2070.4l0.8 -0.1M572.4 2084.3l-1.4 1M566.5 2089.4l-0.1 -0.5M584.8 2089l0.3 0.3M632.6 2106.3l1.2 -0.8M639.3 2107l0.9 1.2M680 2090.6l1.2 -0.2M723.5 2077.8l-0.6 0.9M724.5 2084.7l0.2 0.2M746.8 2081.8l1.2 -0.2M764.5 2078.4l-1.7 -0.3M750.3 2071.3l-1.5 0.6M774.5 2049.9l0.2 -0.5M759.2 2035.3l-0 0.7M744.3 2015.3l0.1 1.1M759.3 2017.6l-0.1 0.9M792.9 2028l1.1 1.2M503.1 2109.9l-0.6 0.7M511 2116.8l-1.4 -0.8M682.2 2140.6l-1.5 0.8M657 2159l-1.1 -0M471.7 2158.1l-0.2 -0M591.7 2153.6l-0.5 0.2M768.6 2111.1l1.5 0M775.7 2112.9l0.4 0.8M756.2 2143.7l-0.2 -1.1M727.9 2044.8l-0.5 0.9M680 2017l-1.4 -0.5M580.1 1972.5l0.9 0.7M512.5 1965.9l0 0.6M466.3 2087.5l0.1 -1M528.5 2017l-1.3 -0.5M504.2 2134.7l0.8 -0.5" stroke="#20ea30" stroke-opacity="1.0" stroke-width="4" stroke-linecap="round" fill="none" filter="url(#soft2)"/>
<path d="M477.6 2236.8l-0.6 -0.5M486.6 2240.6l-1.1 -0.1M506.3 2238.6l-0.8 0.3M482.4 2258.4l-1.4 0.2M497.3 2257.8l-0.4 -1.2M514.4 2280.6l0.5 -0.2M515.3 2294.8l-1.3 -0.5M479.4 2290.3l0.2 -0.3M485.8 2292.1l0.5 0.5M490.3 2302.3l0.4 0.2M483.4 2304.4l0.9 0.5M459.6 2311.9l0.3 -1.3M542.9 2288.8l0.6 0.9M565.2 2281.5l-0.2 -0.3M588.8 2284.9l1 -0.9M569.4 2245.6l0.3 1.4M613.8 2249.1l-0.6 0.5M555.8 2266.9l1.2 -0.1M646.2 2263.5l0.4 0.6M655.5 2258.1l-0.6 -0.1M691.1 2262.2l0.2 0.6M725.4 2252.1l-0 -0.2M710.4 2191.5l-0.7 -0.2M707.6 2207.6l0.6 0.1M706 2283.9l-0.6 -0.6M716.9 2271.4l1.3 0.6M724.4 2281.2l0.3 -1.4M731.8 2268l0.4 0.3M718.3 2291.3l1.1 0.3M729.8 2294.4l-0 0.4M763.3 2271.4l-1.2 0.6M789 2263.2l0.2 -0.5M798.4 2263.3l0.8 1.1M780.8 2282.9l-1 -0.5M789 2284.4l0.2 0.1M762.9 2292.7l-0.3 -0.7M786.3 2290.7l1.2 0.6M778.5 2299.4l-0.8 -0.9M796 2303l1.1 0.6M765.2 2302.2l1.2 0.5M523.7 2325.2l-0.6 0.2M530.7 2332.1l-1.3 -0.4M534.4 2324.2l-0 0.4M525.9 2333.2l-0.5 -0.1M562.8 2341.8l0.3 0.3M571.5 2344.1l0.4 0.1M569.6 2333.8l-0.2 0.5M483.9 2350.6l0 -0.6M545.6 2354.7l-0.4 -0M570.9 2364.7l-0.1 0.2M636.3 2320.8l-0 0.2M672.8 2316.1l-0.1 -0.9M671.7 2327.1l0.3 0.7M658.1 2331.9l0.3 -0.1M687.9 2334.4l0.3 -0.7M671.2 2346.3l-1.2 0M665.2 2358l-0.6 0.5M705.9 2320.2l-0.5 -1.3M743.3 2334.9l-0.7 1M782.6 2342l-0.3 -1M742.4 2355.8l-0.5 0.4M761.3 2361.2l0.3 0.1M765.8 2364.6l1 0.5M655.2 2389.6l-0 0.4M706.4 2379.9l1.1 0.6M741.8 2392l0.7 -0.7M568.7 2423.8l-0.1 0.5M767.2 2425.9l-0.2 0.7M780.1 2436.9l0.4 0.6M458.9 2381.7l-0.1 1.4M461.5 2364.9l0.9 -0.2M764.9 2401.4l0 1.4M717.6 2428.2l-0.2 0.6" stroke="#20ea30" stroke-opacity="1.0" stroke-width="3.2" stroke-linecap="round" fill="none" filter="url(#soft2)"/>
<path d="M908.6 1924.5l0.7 0M1015.7 1935.4l-0.9 0.1M854.8 1981.2l0.3 0.8M867.9 1991.7l0.6 0M1034.7 2001.2l0.6 0.4M940.5 2007.9l0.2 0.1M953.9 2002.4l-0.2 0.5M900.1 2017l-0.8 -0.5M879.1 2037l0 -1.1M1033 2039.4l-0.3 -1.3M1061.6 2045.1l-0.5 0.4M960.2 2054.1l0.4 -0M1006.5 2107.3l-0.2 -1M1016.8 2107.5l1.3 0.4M1096.1 2085.1l0.8 -0.6M1147 2114l-0.1 -1.3M1126.9 2142.4l0.6 0.7M989.6 2073.8l-1.3 -0M1048 2027l0.4 -1.2M971.9 2026.7l-1.2 -0.7M1098.9 2045.8l-0.5 -1M1168.9 2080.3l0 0.2M843.8 2157l0.5 0.5M1087.2 1957.1l1 0.8M1160.6 1943.6l-1 -0.4" stroke="#ff1010" stroke-opacity="0.4" stroke-width="2.4" stroke-linecap="round" fill="none" filter="url(#soft2)"/>
<path d="M925.6 1965.3l-0.8 -0.8M952.6 1972.8l-0.2 0M1073 1947l0.4 -1.1M1067.5 1981.6l-0.9 -0M896.8 1990.5l-0.2 -0.2M912.1 2000.3l-0 -0.5M918.4 1998.2l0.5 0.2M986.7 1997.2l-0.1 -0.5M997.7 1991.1l-0.1 -1.5M1023.5 1998.3l-0.7 0M965.3 2018.9l-1.1 0.1M951.5 2017.2l0.1 -1M938.5 2023.4l-0.2 -0.2M924.2 2025.3l0.3 0.4M890.1 2026.7l-0 -0.6M835.3 2025.6l-0.2 -0.1M897.7 2043.9l0.5 0.2M939.5 2053.7l-0.5 -1M1008.8 2028l-0.3 -0.5M1021.4 2033.5l-0.8 -0.1M1050.5 2050.9l-0.3 0.1M1072.1 2056.4l0.4 -0.3M988.2 2062.1l1.4 -0.2M955.6 2089.1l0.8 0.1M881 2116.2l0.6 -1.3M1053.7 2090l-0.5 0.2M1118.3 2079.7l0.4 1.4M1133.7 2077.7l0.2 0.9M1145.8 2050.2l0.6 0.7" stroke="#ff1010" stroke-opacity="0.75" stroke-width="2.9" stroke-linecap="round" fill="none" filter="url(#soft2)"/>
<path d="M823.2 1899.1l0.4 -0.1M995.3 2000.4l0.4 -0.8M959.9 2015.8l0.9 -0.7M835.1 2049.9l0.2 1.4M891.1 2054l-0.2 0M973.1 2051.9l0.9 0M1003.7 2025.4l-0.6 0.2M1023.8 2053.8l0.4 0.5M931.2 2070.6l-0.5 1.2M943.1 2083.9l1.2 0M938.3 2088.5l0.2 -0.3M873.3 2110.1l1 -0.5M1053.2 2142.1l0.5 -0.3M1028.7 2159.2l-0.5 0.5" stroke="#ff1010" stroke-opacity="1.0" stroke-width="3.4" stroke-linecap="round" fill="none" filter="url(#soft2)"/>
<path d="M891.9 2231.7l0.9 -0M1002.3 2229.3l-0.4 0.5M951.6 2232.9l-0 0.3M1025.8 2258.2l0.9 0.7M1115.1 2297l-0.3 1.2M837.4 2289.9l0 0.5M853 2290.2l-0.4 -0M897.1 2333.6l-0.9 0.9M1135.6 2365.2l0.8 -0.8M1115.3 2334.5l-0.9 -0.9M1151.9 2342.1l0.8 -0.3M920.9 2210.4l-0 -0.3M912.1 2290.5l-0.1 -0.7M1015.2 2299.4l0 -0.9" stroke="#ff1010" stroke-opacity="0.4" stroke-width="2.1" stroke-linecap="round" fill="none" filter="url(#soft2)"/>
<path d="M994.2 2228.1l-0.1 0.2M1146.8 2265.2l0.3 -0.2M1161.3 2273.4l-0.6 0.1M1132.6 2291l-0.3 1M1090.5 2292.4l0.5 -0.1M1166 2303.5l-0.3 -0.5M1042.8 2327.6l-0.6 -0.2M1057.7 2333.5l0.2 0.3M1041.4 2345.8l0.3 1.2M934.2 2342l-0.5 0" stroke="#ff1010" stroke-opacity="0.75" stroke-width="2.5" stroke-linecap="round" fill="none" filter="url(#soft2)"/>
<path d="M904.9 2325.7l1.1 -0.7M1007.5 2320.8l-0.3 0.1M1029.2 2331.7l0.1 0.3M943.7 2343.6l-0.2 0.3M1026.2 2389.6l0 0.5" stroke="#ff1010" stroke-opacity="1.0" stroke-width="3" stroke-linecap="round" fill="none" filter="url(#soft2)"/>
<g transform="translate(741.7 0)" opacity="0.85"><path d="M524.8 1769.5l-1 -0.4M483.9 1723l-0 -0.6M470.2 1765.5l-0.6 0.4M560.9 1688.2l-0.4 0.4M562.7 1735.8l0.4 0.2M626.5 1686.3l0.3 -0.1M636.7 1685.4l-0.8 -0M637.5 1711.9l0.3 -0.3M589.3 1778.2l-0.1 0.4M579.9 1771.7l-0.5 0.4M569.9 1832.2l1 -0.3M718.8 1692.9l0.2 -0.2M760.1 1729.6l0.9 0.2M785.8 1669.8l0.5 -0.4M798.8 1647.6l-0.2 -0.1M731.1 1645.5l-0.9 0.7M802 1728.4l0.5 -0.9M803.4 1763.1l0.4 -0.1M682.3 1699.3l0.3 0.2M619.6 1750l-0.9 -0.1M799.7 1822.5l0.8 -0.3" stroke="#20d0c0" stroke-opacity="0.4" stroke-width="1.8" stroke-linecap="round" fill="none" filter="url(#soft2)"/>
<path d="M496.1 1723.1l-0.6 -0.8M522.9 1719.1l-0.7 0.2M581.4 1686.1l0.9 0.2M573 1705.9l0.1 1.1M546.9 1795.3l-0.3 -0.4M592.7 1815.6l0.3 0.3M612.4 1874.1l-0.6 -0.7M691.1 1749.8l0.2 0.2M703.8 1782.5l-0.8 -0.1M721.2 1708.9l-0.3 0.3M728.6 1709.6l-0.2 -0.1M739.6 1779.5l-0.2 0.6M754.9 1702.6l0.8 -0.2M759 1762l0.5 -0.4M797.9 1678.1l0 0.4" stroke="#20d0c0" stroke-opacity="0.75" stroke-width="2.2" stroke-linecap="round" fill="none" filter="url(#soft2)"/>
<path d="M454.9 1731.1l0.9 -0.2M470.8 1751.1l-0.1 0.2M495.3 1743.3l-0.9 0M605.7 1705l-0.4 0.2M630.4 1733.7l-0.5 -1M650.8 1734.9l0 0.2M631.2 1775.1l-0.3 0.5M619.2 1787.4l-0.2 -0.4M554 1797.8l0.3 -0.9M670.7 1777.6l-0.4 -0M692.2 1761.4l0.5 -0.1M778.5 1696.5l0.2 -0.4M792.5 1705.1l0.2 0.9M789.3 1716.9l-0.3 1.1M793.7 1870.2l-0.4 0" stroke="#20d0c0" stroke-opacity="1.0" stroke-width="2.6" stroke-linecap="round" fill="none" filter="url(#soft2)"/>
<path d="M453.1 1898.6l0.1 0.8M501.9 1920l-0.8 -1.4M537.2 1924.2l0.5 0.6M645.3 1935.6l0.4 1.6M702.1 1945.5l0.2 0.2M717.6 1956.4l0.7 0.3M711.6 1904.3l1.2 -0.9M484 1981.6l-0.2 -1.7M487.1 1990.5l0.6 -0.3M495.9 1991.4l0.6 1.5M527.8 1990.5l-0 -0.2M541.2 2000.4l-0.4 -0.7M547.8 1996.7l-0.5 0.5M538.8 2007.9l0.1 0.2M567.4 2007.6l-0.1 0.7M582.5 2002.7l0.4 -0.1M584.7 2014.6l0.5 -0.1M589.7 2016.2l-0.9 1.1M595.7 2021.5l0.4 -0.8M569.1 2023.2l0.9 0.3M553.8 2025.8l-1.1 1.1M516.7 2026l0.3 0.7M509.3 2037l0.2 -0.1M527.1 2042.7l-1.2 0.8M461.9 2025.6l0 -0.3M464 2050.5l0.3 0.1M459.5 2014.7l0.5 -0.3M609.1 1984.6l-0 -1.6M621.1 1998.9l-0.3 0.5M626.1 2001.5l1.1 -0.3M650.8 1997.7l-0.1 1.3M664.1 2001.1l-0.2 0.6M705.9 1994.8l1.3 0M631.4 2024.9l1 -0.6M639.7 2025.6l0.2 -0.1M650.7 2032.1l0.1 0.9M658.8 2038.9l1.6 -0.4M668.6 2025.3l-0.4 0.4M609.5 2027.5l-0.9 0.4M598.7 2029.1l0.4 -0.2M571.5 2038.4l0.4 -1.2M555.2 2048.5l0.6 -1.2M540.4 2049.9l-0.5 -0.4M519.2 2052.8l-0.3 0.7M568.6 2053.3l0.1 -0.3M602.3 2052.1l0.4 1.3M613.4 2055.2l0 0.3M634.9 2056.1l1 0.2M653.4 2052.4l-0.8 1.5M678.7 2051.6l1.3 -1.1M693.4 2045.1l-0 0.3M700.9 2056l0.8 0.5M620.1 2063.3l-0.2 -0.8M618.7 2072.5l0.1 0.8M560.3 2070.7l-0.9 -0.8M571.7 2085.5l-0 -1.5M566.6 2089.4l-0.2 -0.3M584.7 2089.5l0.3 -0.5M633.6 2106l-0.7 -0.3M639.8 2107.9l-0 -0.5M680.6 2090.2l0 0.6M722.8 2077.6l0.9 1.3M724.9 2085l-0.6 -0.3M748.1 2081.2l-1.3 1M763.9 2078.2l-0.5 -0M749.4 2072.2l0.4 -1.1M774.4 2049.7l0.4 -0M759.9 2035.5l-1.4 0.2M743.9 2016.5l0.9 -1.3M758.9 2018l0.6 0.2M793.3 2028.4l0.4 0.3M502.3 2110.4l1.1 -0.2M509.9 2116.6l0.7 -0.3M681.2 2141.3l0.6 -0.7M656.5 2158.3l-0.1 1.4M471.4 2158.2l0.3 -0.1M592 2154.1l-0.9 -0.6M769.3 2110.8l0.2 0.7M775.8 2113.1l0.3 0.4M756.2 2142.6l-0 1.1M727.8 2045.5l-0.3 -0.4M679 2016.7l0.7 0M580.6 1973l-0.2 -0.4M512.6 1966l-0.2 0.5M466.2 2087.5l0.3 -1M527.7 2016.7l0.3 0.1M505 2134.1l-0.8 0.6" stroke="#50e8c8" stroke-opacity="1.0" stroke-width="3.8" stroke-linecap="round" fill="none" filter="url(#soft2)"/>
<path d="M477.4 2236.7l-0.2 -0.2M485.8 2240.1l0.5 0.9M506.1 2238.6l-0.4 0.3M481.9 2257.9l-0.5 1.2M497.2 2256.8l-0.3 0.8M514.9 2280.2l-0.4 0.5M514.2 2295l0.9 -1M479.7 2290l-0.3 0.3M486.1 2292.6l-0.1 -0.4M489.9 2302.4l1.2 0M484.4 2304.4l-1 0.5M460.3 2310.9l-1 0.7M543.4 2289.2l-0.4 0.1M564.7 2281.3l0.8 0.1M589.7 2284.9l-0.8 -1M569.2 2246l0.8 0.5M613.7 2249l-0.5 0.6M556.2 2266.7l0.3 0.4M647 2263.9l-1.3 -0.2M654.9 2257.9l0.6 0.5M691 2263.1l0.4 -1.2M725.4 2251.8l0.1 0.3M709.4 2191.6l1.2 -0.5M708 2207.6l-0.3 0M705.4 2283.7l0.6 -0.3M717.1 2272l0.8 -0.5M724.5 2280.7l0.2 -0.3M732 2268.4l0.1 -0.4M719.3 2291.1l-1 0.7M729.7 2294.7l0.2 -0.4M762.7 2271.4l0.1 0.6M789.4 2263l-0.6 -0.1M798.6 2263.6l0.3 0.3M780.4 2283.3l-0.2 -1.2M788.7 2284.3l0.8 0.2M762.7 2292.5l0 -0.2M786.8 2291.2l0.2 -0.3M778.5 2299.2l-0.7 -0.5M796.8 2303.5l-0.4 -0.4M766.2 2302.2l-0.8 0.4M523.9 2325.1l-0.9 0.4M530.4 2331.7l-0.7 0.2M534 2324.3l0.9 0.1M525.9 2333.2l-0.5 0M562.9 2342.5l0.1 -1.1M571.9 2344.1l-0.4 0.1M569.7 2334l-0.3 0.1M483.7 2350.1l0.5 0.5M545.1 2354.5l0.6 0.4M571 2364.8l-0.2 -0M636.4 2321l-0.2 -0.2M672.8 2316.2l-0.1 -1.1M672 2327.5l-0.3 -0M658.6 2331.9l-0.6 -0M687.9 2334.1l0.3 -0.1M670.1 2346.9l0.8 -1.1M664.9 2358.8l-0.1 -1.1M705.4 2318.9l0.5 1.2M743.6 2335.3l-1.3 0.1M782.3 2341.6l0.3 -0.2M742 2356.6l0.3 -1.2M761.2 2361.2l0.6 0.2M766.3 2365l0 -0.4M655 2390l0.4 -0.3M706.9 2380.3l0.1 -0.3M742.7 2391.6l-1.3 -0M568.6 2423.8l0.1 0.5M767.4 2426.3l-0.6 -0M780.1 2437.2l0.4 0.1M458.5 2381.8l0.7 1.1M462.2 2365.4l-0.5 -1.1M764.7 2401.6l0.5 1M717.2 2428.2l0.6 0.5" stroke="#30e0b0" stroke-opacity="1.0" stroke-width="3" stroke-linecap="round" fill="none" filter="url(#soft2)"/>
</g>
<g transform="translate(370.9 0)" opacity="0.9"><path d="M925.4 1965.1l-0.4 -0.4M952.2 1973.1l0.5 -0.5M1073.7 1946.7l-0.9 -0.5M1066.6 1981.3l0.9 0.7M896.9 1990.6l-0.4 -0.4M912 2000.3l0.1 -0.4M918.3 1998.3l0.8 -0M987 1996.6l-0.6 0.7M997.9 1990.3l-0.3 0.1M1023.2 1998.4l-0 -0.2M964.6 2019.1l0.2 -0.4M951.9 2017.2l-0.7 -0.9M938.8 2023.5l-0.7 -0.4M924.4 2025.4l-0.1 0.2M889.9 2026.4l0.3 0.1M835.4 2025.7l-0.5 -0.4M898.5 2044l-1.1 -0.1M939.1 2053l0.3 0.3M1008.7 2027.8l-0.1 -0.2M1020.7 2033.4l0.5 0M1050.2 2050.8l0.4 0.3M1072.3 2055.9l0.1 0.8M989.1 2062.1l-0.3 -0.2M956.2 2089.4l-0.5 -0.5M880.9 2115.1l0.7 0.8M1053.4 2089.9l0 0.3M1118.1 2080.2l0.7 0.5M1133.5 2078.6l0.7 -0.7M1146.3 2050.4l-0.4 0.3" stroke="#ffe890" stroke-opacity="0.75" stroke-width="2.2" stroke-linecap="round" fill="none" filter="url(#soft2)"/>
<path d="M822.9 1899l0.8 0.1M995.7 2000.2l-0.5 -0.2M960.5 2015.7l-0.4 -0.5M834.8 2050.7l0.8 -0.4M891 2053.5l0 1.1M973.2 2051.8l0.7 0.2M1003.6 2025.4l-0.4 0.2M1023.6 2053.9l0.9 0.3M930.6 2071.2l0.7 0.1M943.5 2084l0.3 -0.1M938.3 2087.9l0.2 0.8M874.3 2109.8l-0.8 -0M1053.4 2142.1l0.1 -0.3M1028.5 2159.2l-0.2 0.5" stroke="#ffe890" stroke-opacity="1.0" stroke-width="2.6" stroke-linecap="round" fill="none" filter="url(#soft2)"/>
<path d="M905 2325.1l0.9 0.3M1007.3 2321.3l0.2 -0.8M1028.8 2331.8l0.9 0M943.7 2344l-0 -0.6M1026.2 2390.1l-0 -0.6" stroke="#ffe890" stroke-opacity="1.0" stroke-width="2.4" stroke-linecap="round" fill="none" filter="url(#soft2)"/>
</g>
<path d="M1370.2 1993.6L1382.5 1970.7L1396.9 1990.7Z" fill="#fff"/><path d="M1389.7 1980.7L1399.1 1974" stroke="#fff" stroke-width="2.2" fill="none"/>
<path d="M1399.1 1989.6L1418.1 1971.3L1424.7 1994Z" fill="#fff"/><path d="M1421.4 1982.7L1429.6 1979.6" stroke="#fff" stroke-width="2.2" fill="none"/>
<path d="M1333.1 2010.7L1345.8 1987.3L1358.7 2006.9Z" fill="#fff"/><path d="M1352.2 1997.1L1358 1993.6" stroke="#fff" stroke-width="2.2" fill="none"/>
<path d="M1344.6 2055.9L1341.7 2082.3L1364.2 2073Z" fill="#fff"/><path d="M1353 2077.7L1356.4 2088.6" stroke="#fff" stroke-width="2.2" fill="none"/>
<path d="M1393.1 2060.1L1389.6 2086.3L1411.8 2078.1Z" fill="#fff"/><path d="M1400.7 2082.2L1404.3 2092.6" stroke="#fff" stroke-width="2.2" fill="none"/>
<path d="M1297.2 2076.3L1284.6 2100.4L1308.6 2100.8Z" fill="#fff"/><path d="M1296.6 2100.6L1296.1 2111.5" stroke="#fff" stroke-width="2.2" fill="none"/>
<path d="M1315.7 2088.6L1312.4 2115.3L1334.6 2106.4Z" fill="#fff"/><path d="M1323.5 2110.8L1326.8 2121.3" stroke="#fff" stroke-width="2.2" fill="none"/>
<path d="M1246.7 2114.8L1256.8 2139.3L1273.4 2121.5Z" fill="#fff"/><path d="M1265.1 2130.4L1280.6 2144.2" stroke="#fff" stroke-width="2.2" fill="none"/>
<path d="M1399.8 2153.1L1399.8 2127.1L1422.1 2138.2Z" fill="#fff"/><path d="M1410.9 2132.6L1415.8 2120.8" stroke="#fff" stroke-width="2.2" fill="none"/>
<path d="M1430.3 2137.5L1450.3 2120.8L1456.5 2143.1Z" fill="#fff"/><path d="M1453.4 2132L1462.1 2129.7" stroke="#fff" stroke-width="2.2" fill="none"/>
<path d="M1316.8 2340.8L1336.9 2324.7L1342.9 2347.4Z" fill="#fff"/><path d="M1339.9 2336.1L1348.4 2334.1" stroke="#fff" stroke-width="2.2" fill="none"/>
<path d="M1399.1 2334.1L1376.9 2349.2L1397.6 2360.8Z" fill="#fff"/><path d="M1387.2 2355L1380.7 2367" stroke="#fff" stroke-width="2.2" fill="none"/>
<rect x="78.8" y="1868.7" width="91.3" height="4.6" fill="#fff"/>
<rect x="454.9" y="1868.7" width="91.7" height="4.6" fill="#fff"/>
<rect x="820.2" y="1868.7" width="84.7" height="4.6" fill="#fff"/>
<rect x="1198.8" y="1868.7" width="90.8" height="4.6" fill="#fff"/>
<rect x="78.8" y="2151.2" width="91.3" height="4.6" fill="#fff"/>
<rect x="454.9" y="2151.2" width="91.7" height="4.6" fill="#fff"/>
<rect x="820.2" y="2151.2" width="84.7" height="4.6" fill="#fff"/>
<rect x="1198.8" y="2151.2" width="90.8" height="4.6" fill="#fff"/>
<rect x="78.8" y="2430.4" width="91.3" height="4.6" fill="#fff"/>
<rect x="454.9" y="2430.4" width="91.7" height="4.6" fill="#fff"/>
<rect x="820.2" y="2430.4" width="84.7" height="4.6" fill="#fff"/>
<rect x="1198.8" y="2430.4" width="90.8" height="4.6" fill="#fff"/>
<text x="91" y="2407.5" class="b" font-size="24.8" fill="#fff">100&#956;m</text>
</g>
<g id="panel-a">
<g style="isolation:isolate">
<circle cx="215.5" cy="171" r="137.5" fill="#0000cd" fill-opacity="0.5" stroke="#15155a" stroke-opacity="0.85" stroke-width="1.4"/>
<circle cx="351" cy="171" r="137.5" fill="#e4002c" fill-opacity="0.5" stroke="#5a1525" stroke-opacity="0.85" stroke-width="1.4"/>
<circle cx="283.3" cy="288.8" r="137.5" fill="#00aa50" fill-opacity="0.5" stroke="#15402a" stroke-opacity="0.85" stroke-width="1.4"/>
</g>
<text x="17" y="75" class="pl">a</text>
<text x="130" y="146.2" font-size="17.6" fill="#14142a" stroke="#14142a" stroke-width="1" textLength="53.5" lengthAdjust="spacing">1 1 0</text>
<text x="267" y="111.1" font-size="17.6" fill="#14142a" stroke="#14142a" stroke-width="0.35" textLength="47.8" lengthAdjust="spacing">4&#160;&#160;9</text>
<text x="402.2" y="146.2" font-size="17.6" fill="#14142a" stroke="#14142a" stroke-width="0.35" textLength="49.6" lengthAdjust="spacing">1 2 3</text>
<text x="272.2" y="220.7" font-size="17.6" fill="#14142a" stroke="#14142a" stroke-width="0.35" textLength="42.6" lengthAdjust="spacing">545</text>
<text x="179.2" y="275.2" font-size="17.6" fill="#14142a" stroke="#14142a" stroke-width="0.35" textLength="44.7" lengthAdjust="spacing">1 0 3</text>
<text x="353" y="262.9" font-size="17.6" fill="#14142a" stroke="#14142a" stroke-width="0.35" textLength="40.2" lengthAdjust="spacing">4&#160;&#160;1</text>
<text x="275.8" y="368.9" font-size="17.6" fill="#14142a" stroke="#14142a" stroke-width="0.35" textLength="45.4" lengthAdjust="spacing">5&#160;&#160;0</text>
<text x="373" y="90" class="g">DSS+LiPg</text>
<text x="-1" y="212" class="g">DSS+DePg</text>
<text x="219" y="450" class="g">DSS+PBS</text>
</g>
<g id="panel-b">
<text x="553" y="76" class="pl">b</text>
<text x="910" y="40" class="b" font-size="28.3" text-anchor="middle">PERMANOVA: P = 0.003</text>
<path d="M695.7 78V346.3L986.7 256M695.7 346.3L812.5 393.4" fill="none" stroke="#888" stroke-width="1.3"/>
<text x="651.5" y="80" font-size="12.1" fill="#333">Axis 2 (23.87 %)</text>
<text x="952" y="256" font-size="12.1" fill="#333">Axis 1 (64.35 %)</text>
<text x="782" y="403" font-size="12.1" fill="#333">Axis 3 (6.496 %)</text>
<circle cx="755" cy="94" r="10.3" fill="#068806" stroke="#0a4a0a" stroke-width="2"/>
<circle cx="760" cy="185.7" r="10.3" fill="#068806" stroke="#0a4a0a" stroke-width="2"/>
<circle cx="776.5" cy="192.6" r="10.3" fill="#068806" stroke="#0a4a0a" stroke-width="2"/>
<circle cx="1007" cy="109" r="10.3" fill="#ff0808" stroke="#8a0a0a" stroke-width="2"/>
<circle cx="1021" cy="92" r="10.3" fill="#ff0808" stroke="#8a0a0a" stroke-width="2"/>
<circle cx="1050.7" cy="134.8" r="10.3" fill="#ff0808" stroke="#8a0a0a" stroke-width="2"/>
<circle cx="788.8" cy="311.5" r="10.3" fill="#0a0af0" stroke="#0a0a8a" stroke-width="2"/>
<circle cx="833.4" cy="319" r="10.3" fill="#0a0af0" stroke="#0a0a8a" stroke-width="2"/>
<circle cx="934.7" cy="318.4" r="10.3" fill="#0a0af0" stroke="#0a0a8a" stroke-width="2"/>
<circle cx="636.3" cy="433" r="12" fill="#068806"/>
<text x="662" y="444" class="g">DSS+PBS</text>
<circle cx="833.9" cy="433" r="12" fill="#ff0808"/>
<text x="865" y="444" class="g">DSS+LiPg</text>
<circle cx="1031" cy="433" r="12" fill="#0a0af0"/>
<text x="1056.4" y="444" class="g">DSS+DePg</text>
</g>
<g id="panel-c">
<text x="11" y="506.5" class="pl">c</text>
<text x="93.7" y="573.3" class="g">DSS+PBS</text>
<text x="277.3" y="573.3" class="g">DSS+LiPg</text>
<text x="461.4" y="573.3" class="g">DSS+DePg</text>
<rect x="89" y="597.2" width="158" height="20.6" fill="#00a0a0"/>
<rect x="264.6" y="597.2" width="158" height="20.6" fill="#dc143c"/>
<rect x="440.3" y="597.2" width="158" height="20.6" fill="#0000ff"/>
<rect x="89" y="646" width="40.2" height="11" fill="#a6d854"/>
<rect x="89" y="656.7" width="40.2" height="70.6" fill="#ffd92f"/>
<rect x="89" y="727" width="40.2" height="301.1" fill="#1b9e77"/>
<rect x="89" y="1027.8" width="40.2" height="220.4" fill="#d95f02"/>
<rect x="89" y="1247.9" width="40.2" height="170.8" fill="#7570b3"/>
<line x1="109.1" y1="1418.4" x2="109.1" y2="1424.4" stroke="#333" stroke-width="1.5"/>
<rect x="147.6" y="646" width="40.2" height="1.3" fill="#e78ac3"/>
<rect x="147.6" y="647" width="40.2" height="11.9" fill="#a6d854"/>
<rect x="147.6" y="658.6" width="40.2" height="71" fill="#ffd92f"/>
<rect x="147.6" y="729.3" width="40.2" height="313.3" fill="#1b9e77"/>
<rect x="147.6" y="1042.3" width="40.2" height="260.2" fill="#d95f02"/>
<rect x="147.6" y="1302.2" width="40.2" height="116.5" fill="#7570b3"/>
<line x1="167.7" y1="1418.4" x2="167.7" y2="1424.4" stroke="#333" stroke-width="1.5"/>
<rect x="206.1" y="646" width="40.2" height="11.5" fill="#a6d854"/>
<rect x="206.1" y="657.2" width="40.2" height="71.5" fill="#ffd92f"/>
<rect x="206.1" y="728.4" width="40.2" height="306.7" fill="#1b9e77"/>
<rect x="206.1" y="1034.8" width="40.2" height="239.2" fill="#d95f02"/>
<rect x="206.1" y="1273.7" width="40.2" height="145" fill="#7570b3"/>
<line x1="226.2" y1="1418.4" x2="226.2" y2="1424.4" stroke="#333" stroke-width="1.5"/>
<rect x="264.6" y="646" width="40.2" height="14.3" fill="#e78ac3"/>
<rect x="264.6" y="660" width="40.2" height="9.2" fill="#a6d854"/>
<rect x="264.6" y="668.9" width="40.2" height="37.8" fill="#ffd92f"/>
<rect x="264.6" y="706.4" width="40.2" height="78.5" fill="#1b9e77"/>
<rect x="264.6" y="784.6" width="40.2" height="92.6" fill="#d95f02"/>
<rect x="264.6" y="876.9" width="40.2" height="541.8" fill="#7570b3"/>
<line x1="284.8" y1="1418.4" x2="284.8" y2="1424.4" stroke="#333" stroke-width="1.5"/>
<rect x="323.2" y="646" width="40.2" height="6.8" fill="#e78ac3"/>
<rect x="323.2" y="652.5" width="40.2" height="16.2" fill="#a6d854"/>
<rect x="323.2" y="668.4" width="40.2" height="18.1" fill="#ffd92f"/>
<rect x="323.2" y="686.2" width="40.2" height="94" fill="#1b9e77"/>
<rect x="323.2" y="779.9" width="40.2" height="79.4" fill="#d95f02"/>
<rect x="323.2" y="859" width="40.2" height="559.7" fill="#7570b3"/>
<line x1="343.3" y1="1418.4" x2="343.3" y2="1424.4" stroke="#333" stroke-width="1.5"/>
<rect x="381.8" y="646" width="40.2" height="4" fill="#e78ac3"/>
<rect x="381.8" y="649.7" width="40.2" height="12.9" fill="#a6d854"/>
<rect x="381.8" y="662.3" width="40.2" height="15.8" fill="#ffd92f"/>
<rect x="381.8" y="677.8" width="40.2" height="101" fill="#1b9e77"/>
<rect x="381.8" y="778.5" width="40.2" height="86.5" fill="#d95f02"/>
<rect x="381.8" y="864.7" width="40.2" height="554" fill="#7570b3"/>
<line x1="401.9" y1="1418.4" x2="401.9" y2="1424.4" stroke="#333" stroke-width="1.5"/>
<rect x="440.3" y="646" width="40.2" height="14.3" fill="#a6d854"/>
<rect x="440.3" y="660" width="40.2" height="72.9" fill="#ffd92f"/>
<rect x="440.3" y="732.6" width="40.2" height="137.5" fill="#1b9e77"/>
<rect x="440.3" y="869.8" width="40.2" height="274.4" fill="#d95f02"/>
<rect x="440.3" y="1143.9" width="40.2" height="274.8" fill="#7570b3"/>
<line x1="460.4" y1="1418.4" x2="460.4" y2="1424.4" stroke="#333" stroke-width="1.5"/>
<rect x="498.8" y="646" width="40.2" height="2.6" fill="#e78ac3"/>
<rect x="498.8" y="648.3" width="40.2" height="12" fill="#a6d854"/>
<rect x="498.8" y="660" width="40.2" height="53.7" fill="#ffd92f"/>
<rect x="498.8" y="713.4" width="40.2" height="155.3" fill="#1b9e77"/>
<rect x="498.8" y="868.4" width="40.2" height="212.6" fill="#d95f02"/>
<rect x="498.8" y="1080.7" width="40.2" height="338" fill="#7570b3"/>
<line x1="518.9" y1="1418.4" x2="518.9" y2="1424.4" stroke="#333" stroke-width="1.5"/>
<rect x="557.4" y="646" width="40.2" height="3.6" fill="#e78ac3"/>
<rect x="557.4" y="649.3" width="40.2" height="14.3" fill="#a6d854"/>
<rect x="557.4" y="663.3" width="40.2" height="60.2" fill="#ffd92f"/>
<rect x="557.4" y="723.2" width="40.2" height="159.1" fill="#1b9e77"/>
<rect x="557.4" y="882" width="40.2" height="199.5" fill="#d95f02"/>
<rect x="557.4" y="1081.2" width="40.2" height="337.5" fill="#7570b3"/>
<line x1="577.5" y1="1418.4" x2="577.5" y2="1424.4" stroke="#333" stroke-width="1.5"/>
<line x1="73.6" y1="590.2" x2="73.6" y2="1419.8" stroke="#262626" stroke-width="2"/>
<line x1="69.3" y1="1418.9" x2="612.8" y2="1418.9" stroke="#262626" stroke-width="2"/>
<line x1="68.3" y1="1418.4" x2="73.5" y2="1418.4" stroke="#333" stroke-width="1.5"/>
<text x="64" y="1423.9" font-size="15.5" text-anchor="end" fill="#666">0</text>
<line x1="68.3" y1="1263.9" x2="73.5" y2="1263.9" stroke="#333" stroke-width="1.5"/>
<text x="64" y="1269.4" font-size="15.5" text-anchor="end" fill="#666">20</text>
<line x1="68.3" y1="1109.4" x2="73.5" y2="1109.4" stroke="#333" stroke-width="1.5"/>
<text x="64" y="1114.9" font-size="15.5" text-anchor="end" fill="#666">40</text>
<line x1="68.3" y1="955" x2="73.5" y2="955" stroke="#333" stroke-width="1.5"/>
<text x="64" y="960.5" font-size="15.5" text-anchor="end" fill="#666">60</text>
<line x1="68.3" y1="800.5" x2="73.5" y2="800.5" stroke="#333" stroke-width="1.5"/>
<text x="64" y="806" font-size="15.5" text-anchor="end" fill="#666">80</text>
<line x1="68.3" y1="646" x2="73.5" y2="646" stroke="#333" stroke-width="1.5"/>
<text x="64" y="651.5" font-size="15.5" text-anchor="end" fill="#666">100</text>
<text font-size="19.6" text-anchor="middle" fill="#333" transform="translate(27.5 975) rotate(-90)">Sequence Number Percent(%)</text>
<rect x="623" y="1013.7" width="30" height="30.4" fill="#a6cee3"/>
<text x="664.2" y="1034.2" font-size="15.1" fill="#1a1a1a">Spirochaetes</text>
<rect x="623" y="1046.9" width="30" height="30.4" fill="#66c2a5"/>
<text x="664.2" y="1067.4" font-size="15.1" fill="#1a1a1a">Ignavibacteriae</text>
<rect x="623" y="1080.1" width="30" height="30.4" fill="#fc8d62"/>
<text x="664.2" y="1100.6" font-size="15.1" fill="#1a1a1a">unclassified</text>
<rect x="623" y="1113.3" width="30" height="30.4" fill="#8da0cb"/>
<text x="664.2" y="1133.8" font-size="15.1" fill="#1a1a1a">Synergistetes</text>
<rect x="623" y="1146.5" width="30" height="30.4" fill="#e78ac3"/>
<text x="664.2" y="1167" font-size="15.1" fill="#1a1a1a">Deferribacteres</text>
<rect x="623" y="1179.7" width="30" height="30.4" fill="#a6d854"/>
<text x="664.2" y="1200.2" font-size="15.1" fill="#1a1a1a">Proteobacteria</text>
<rect x="623" y="1212.9" width="30" height="30.4" fill="#ffd92f"/>
<text x="664.2" y="1233.4" font-size="15.1" fill="#1a1a1a">Actinobacteria</text>
<rect x="623" y="1246.1" width="30" height="30.4" fill="#1b9e77"/>
<text x="664.2" y="1266.6" font-size="15.1" fill="#1a1a1a">Verrucomicrobia</text>
<rect x="623" y="1279.3" width="30" height="30.4" fill="#d95f02"/>
<text x="664.2" y="1299.8" font-size="15.1" fill="#1a1a1a">Firmicutes</text>
<rect x="623" y="1312.5" width="30" height="30.4" fill="#7570b3"/>
<text x="664.2" y="1333" font-size="15.1" fill="#1a1a1a">Bacteroidetes</text>
</g>
<g id="panel-d">
<text x="1199" y="75.5" class="pl">d</text>
<path d="M1346.7 104.8V350.6M1336.4 350.6H1510.2" fill="none" stroke="#000" stroke-width="2.2"/>
<line x1="1336.7" y1="350.6" x2="1346.7" y2="350.6" stroke="#000" stroke-width="2.2"/>
<text x="1333.4" y="359" class="b" font-size="23.3" text-anchor="end">0</text>
<line x1="1336.7" y1="289.4" x2="1346.7" y2="289.4" stroke="#000" stroke-width="2.2"/>
<text x="1333.4" y="297.8" class="b" font-size="23.3" text-anchor="end">20</text>
<line x1="1336.7" y1="228.2" x2="1346.7" y2="228.2" stroke="#000" stroke-width="2.2"/>
<text x="1333.4" y="236.6" class="b" font-size="23.3" text-anchor="end">40</text>
<line x1="1336.7" y1="167.1" x2="1346.7" y2="167.1" stroke="#000" stroke-width="2.2"/>
<text x="1333.4" y="175.5" class="b" font-size="23.3" text-anchor="end">60</text>
<line x1="1336.7" y1="105.9" x2="1346.7" y2="105.9" stroke="#000" stroke-width="2.2"/>
<text x="1333.4" y="114.3" class="b" font-size="23.3" text-anchor="end">80</text>
<line x1="1378.6" y1="350.6" x2="1378.6" y2="360.6" stroke="#000" stroke-width="2.2"/>
<text transform="translate(1386.1 381.4) rotate(-45)" text-anchor="end" font-size="23.5" class="b" stroke="#000" stroke-width="0.35">DSS+PBS</text>
<line x1="1427.5" y1="350.6" x2="1427.5" y2="360.6" stroke="#000" stroke-width="2.2"/>
<text transform="translate(1435 381.4) rotate(-45)" text-anchor="end" font-size="23.5" class="b" stroke="#000" stroke-width="0.35">DSS+LiPg</text>
<line x1="1476.7" y1="350.6" x2="1476.7" y2="360.6" stroke="#000" stroke-width="2.2"/>
<text transform="translate(1484.2 381.4) rotate(-45)" text-anchor="end" font-size="23.5" class="b" stroke="#000" stroke-width="0.35">DSS+DePg</text>
<text transform="translate(1264.5 222.5) rotate(-90)" text-anchor="middle" font-size="23.5" class="bi">P-Bacteroidetes</text>
<text transform="translate(1291.5 222.5) rotate(-90)" text-anchor="middle" font-size="23.5" class="bi">Relative Abundance</text>
<text x="1380" y="15.2" font-size="20.2" fill="#000">p=0.0004</text>
<text x="1381.9" y="19" font-size="22.5" text-anchor="end" fill="#000" font-family="DejaVu Sans,sans-serif" font-weight="bold" stroke="#000" stroke-width="0.7" stroke-linejoin="round" letter-spacing="3.4">***</text>
<line x1="1372" y1="27" x2="1427.5" y2="27" stroke="#000" stroke-width="2"/>
<text x="1422.5" y="62" font-size="20.2" fill="#000">p=0.0017</text>
<text x="1424.4" y="65.8" font-size="22.5" text-anchor="end" fill="#000" font-family="DejaVu Sans,sans-serif" font-weight="bold" stroke="#000" stroke-width="0.7" stroke-linejoin="round" letter-spacing="3.4">**</text>
<line x1="1427.5" y1="74.2" x2="1472.3" y2="74.2" stroke="#000" stroke-width="2"/>
<text x="1395" y="105.4" font-size="20.2" fill="#000">p=0.0035</text>
<text x="1396.9" y="109.2" font-size="22.5" text-anchor="end" fill="#000" font-family="DejaVu Sans,sans-serif" font-weight="bold" stroke="#000" stroke-width="0.7" stroke-linejoin="round" letter-spacing="3.4">**</text>
<line x1="1372" y1="117.8" x2="1472.7" y2="117.8" stroke="#000" stroke-width="2"/>
<path d="M1365.6 267.5Q1366.6 272 1370.3 277Q1374.1 282 1374.8 285Q1375.4 288 1374.5 291Q1373.6 294 1372.1 297Q1370.6 300 1370.3 300.8L1370.1 301.5L1387.1 301.5Q1386.6 300 1385.1 297Q1383.6 294 1382.7 291Q1381.8 288 1382.4 285Q1383.1 282 1386.8 277Q1390.6 272 1391.1 269.8L1391.6 267.5Z" fill="none" stroke="#0c9a6c" stroke-width="1.8" stroke-linejoin="round"/>
<line x1="1370" y1="269.5" x2="1388" y2="269.5" stroke="#0c9a6c" stroke-width="1.3" stroke-dasharray="3 2"/>
<path d="M1418.8 133Q1415.8 136 1415.5 138Q1415.3 140 1416.5 141.2L1417.8 142.5L1437.8 142.5Q1440.3 140 1440 138Q1439.8 136 1438.3 134.5L1436.8 133Z" fill="none" stroke="#ff0a0a" stroke-width="1.8" stroke-linejoin="round"/>
<line x1="1419" y1="139" x2="1437" y2="139" stroke="#ff0a0a" stroke-width="1.3" stroke-dasharray="3 2"/>
<path d="M1467 197Q1464.5 199 1464.5 199.8L1464.5 200.5L1489.5 200.5Q1489.5 199 1488.2 198L1487 197Z" fill="none" stroke="#0a0af8" stroke-width="1.8" stroke-linejoin="round"/>
<circle cx="1366.2" cy="269.8" r="4.3" fill="#048404"/>
<circle cx="1391.5" cy="267.2" r="4.3" fill="#048404"/>
<circle cx="1378.6" cy="301.6" r="4.3" fill="#048404"/>
<rect x="1411" y="138.5" width="8.8" height="8.8" fill="#ff0a0a"/>
<rect x="1423.4" y="128.6" width="8.8" height="8.8" fill="#ff0a0a"/>
<rect x="1436" y="134.9" width="8.8" height="8.8" fill="#ff0a0a"/>
<path d="M1464 194.9L1468.8 203.8L1459.2 203.8Z" fill="#0a0af8"/>
<path d="M1477 191.9L1481.8 200.8L1472.2 200.8Z" fill="#0a0af8"/>
<path d="M1489.6 194.6L1494.4 203.4L1484.8 203.4Z" fill="#0a0af8"/>
</g>
<g id="panel-e">
<text x="1578.5" y="75.5" class="pl">e</text>
<path d="M1723.4 101.9V349M1712.9 349H1887.4" fill="none" stroke="#000" stroke-width="2.2"/>
<line x1="1713.4" y1="349" x2="1723.4" y2="349" stroke="#000" stroke-width="2.2"/>
<text x="1710" y="357.4" class="b" font-size="23.3" text-anchor="end">0</text>
<line x1="1713.4" y1="287.5" x2="1723.4" y2="287.5" stroke="#000" stroke-width="2.2"/>
<text x="1710" y="295.9" class="b" font-size="23.3" text-anchor="end">10</text>
<line x1="1713.4" y1="226" x2="1723.4" y2="226" stroke="#000" stroke-width="2.2"/>
<text x="1710" y="234.4" class="b" font-size="23.3" text-anchor="end">20</text>
<line x1="1713.4" y1="164.5" x2="1723.4" y2="164.5" stroke="#000" stroke-width="2.2"/>
<text x="1710" y="172.9" class="b" font-size="23.3" text-anchor="end">30</text>
<line x1="1713.4" y1="103" x2="1723.4" y2="103" stroke="#000" stroke-width="2.2"/>
<text x="1710" y="111.4" class="b" font-size="23.3" text-anchor="end">40</text>
<line x1="1755.5" y1="349" x2="1755.5" y2="359" stroke="#000" stroke-width="2.2"/>
<text transform="translate(1763 379.8) rotate(-45)" text-anchor="end" font-size="23.5" class="b" stroke="#000" stroke-width="0.35">DSS+PBS</text>
<line x1="1804.7" y1="349" x2="1804.7" y2="359" stroke="#000" stroke-width="2.2"/>
<text transform="translate(1812.2 379.8) rotate(-45)" text-anchor="end" font-size="23.5" class="b" stroke="#000" stroke-width="0.35">DSS+LiPg</text>
<line x1="1853.4" y1="349" x2="1853.4" y2="359" stroke="#000" stroke-width="2.2"/>
<text transform="translate(1860.9 379.8) rotate(-45)" text-anchor="end" font-size="23.5" class="b" stroke="#000" stroke-width="0.35">DSS+DePg</text>
<text transform="translate(1641.5 221.3) rotate(-90)" text-anchor="middle" font-size="23.5" class="bi">P-Firmicutes</text>
<text transform="translate(1669 221.3) rotate(-90)" text-anchor="middle" font-size="23.5" class="bi">Relative Abundance</text>
<text x="1763.5" y="23.9" font-size="20.2" fill="#000">p=0.0005</text>
<text x="1765.4" y="27.7" font-size="22.5" text-anchor="end" fill="#000" font-family="DejaVu Sans,sans-serif" font-weight="bold" stroke="#000" stroke-width="0.7" stroke-linejoin="round" letter-spacing="3.4">***</text>
<line x1="1756.2" y1="36" x2="1810" y2="36" stroke="#000" stroke-width="2"/>
<text x="1797" y="69" font-size="20.2" fill="#000">p=0.0137</text>
<text x="1798.9" y="72.8" font-size="22.5" text-anchor="end" fill="#000" font-family="DejaVu Sans,sans-serif" font-weight="bold" stroke="#000" stroke-width="0.7" stroke-linejoin="round" letter-spacing="3.4">*</text>
<line x1="1810.5" y1="81.3" x2="1855" y2="81.3" stroke="#000" stroke-width="2"/>
<text x="1770" y="114.3" font-size="20.2" fill="#000">p=0.0180</text>
<text x="1771.9" y="118.1" font-size="22.5" text-anchor="end" fill="#000" font-family="DejaVu Sans,sans-serif" font-weight="bold" stroke="#000" stroke-width="0.7" stroke-linejoin="round" letter-spacing="3.4">*</text>
<line x1="1755" y1="126.5" x2="1855.7" y2="126.5" stroke="#000" stroke-width="2"/>
<path d="M1746.5 142Q1747.5 147 1749.2 152Q1751 157 1751.2 160.5Q1751.5 164 1750 168Q1748.5 172 1745.2 176Q1742 180 1740.8 183Q1739.5 186 1740 188Q1740.5 190 1740.8 190.5L1741 191L1770 191Q1770.5 190 1771 188Q1771.5 186 1770.2 183Q1769 180 1765.8 176Q1762.5 172 1761 168Q1759.5 164 1759.8 160.5Q1760 157 1761.8 152Q1763.5 147 1764 144.5L1764.5 142Z" fill="none" stroke="#0c9a6c" stroke-width="1.8" stroke-linejoin="round"/>
<line x1="1742" y1="181" x2="1770" y2="181" stroke="#0c9a6c" stroke-width="1.3" stroke-dasharray="3 2"/>
<path d="M1789.2 277Q1788.7 280 1789.7 282Q1790.7 284 1791.2 284.8L1791.7 285.5L1817.7 285.5Q1818.7 284 1819.7 282Q1820.7 280 1820.5 278.5L1820.2 277Z" fill="none" stroke="#ff0a0a" stroke-width="1.8" stroke-linejoin="round"/>
<line x1="1791" y1="279.5" x2="1818" y2="279.5" stroke="#ff0a0a" stroke-width="1.3" stroke-dasharray="3 2"/>
<path d="M1844.4 211.5Q1845.9 214 1847.7 216.5Q1849.4 219 1848.4 221Q1847.4 223 1843.9 225.5Q1840.4 228 1839.4 229.8Q1838.4 231.5 1838.4 232.2L1838.4 233L1868.4 233Q1868.4 231.5 1867.4 229.8Q1866.4 228 1862.9 225.5Q1859.4 223 1858.4 221Q1857.4 219 1859.2 216.5Q1860.9 214 1861.7 212.8L1862.4 211.5Z" fill="none" stroke="#0a0af8" stroke-width="1.8" stroke-linejoin="round"/>
<line x1="1842" y1="229.5" x2="1866" y2="229.5" stroke="#0a0af8" stroke-width="1.3" stroke-dasharray="3 2"/>
<circle cx="1755.5" cy="142.2" r="4.3" fill="#048404"/>
<circle cx="1755.5" cy="180.8" r="4.3" fill="#048404"/>
<circle cx="1755.5" cy="191" r="4.3" fill="#048404"/>
<rect x="1787.4" y="281.3" width="8.8" height="8.8" fill="#ff0a0a"/>
<rect x="1800.3" y="272.4" width="8.8" height="8.8" fill="#ff0a0a"/>
<rect x="1812.7" y="275.9" width="8.8" height="8.8" fill="#ff0a0a"/>
<path d="M1853.4 206.8L1858.2 215.6L1848.6 215.6Z" fill="#0a0af8"/>
<path d="M1840.5 227.8L1845.3 236.6L1835.7 236.6Z" fill="#0a0af8"/>
<path d="M1866.3 224.8L1871.1 233.6L1861.5 233.6Z" fill="#0a0af8"/>
</g>
<g id="panel-g-charts">
<path d="M1697.7 1666.3V1886.3M1688.3 1886.3H1840" fill="none" stroke="#000" stroke-width="2"/>
<line x1="1688.7" y1="1886.3" x2="1697.7" y2="1886.3" stroke="#000" stroke-width="2"/>
<text x="1686.7" y="1893.4" class="b" font-size="19.7" text-anchor="end">0</text>
<line x1="1688.7" y1="1842.5" x2="1697.7" y2="1842.5" stroke="#000" stroke-width="2"/>
<text x="1686.7" y="1849.6" class="b" font-size="19.7" text-anchor="end">20</text>
<line x1="1688.7" y1="1798.7" x2="1697.7" y2="1798.7" stroke="#000" stroke-width="2"/>
<text x="1686.7" y="1805.8" class="b" font-size="19.7" text-anchor="end">40</text>
<line x1="1688.7" y1="1754.9" x2="1697.7" y2="1754.9" stroke="#000" stroke-width="2"/>
<text x="1686.7" y="1762" class="b" font-size="19.7" text-anchor="end">60</text>
<line x1="1688.7" y1="1711.1" x2="1697.7" y2="1711.1" stroke="#000" stroke-width="2"/>
<text x="1686.7" y="1718.2" class="b" font-size="19.7" text-anchor="end">80</text>
<line x1="1688.7" y1="1667.3" x2="1697.7" y2="1667.3" stroke="#000" stroke-width="2"/>
<text x="1686.7" y="1674.4" class="b" font-size="19.7" text-anchor="end">100</text>
<line x1="1725.8" y1="1886.3" x2="1725.8" y2="1895.3" stroke="#000" stroke-width="2"/>
<text transform="translate(1733.3 1917.1) rotate(-45)" text-anchor="end" font-size="23.5" class="b" stroke="#000" stroke-width="0.35">DSS+PBS</text>
<line x1="1767.9" y1="1886.3" x2="1767.9" y2="1895.3" stroke="#000" stroke-width="2"/>
<text transform="translate(1775.4 1917.1) rotate(-45)" text-anchor="end" font-size="23.5" class="b" stroke="#000" stroke-width="0.35">DSS+LiPg</text>
<line x1="1810.5" y1="1886.3" x2="1810.5" y2="1895.3" stroke="#000" stroke-width="2"/>
<text transform="translate(1818 1917.1) rotate(-45)" text-anchor="end" font-size="23.5" class="b" stroke="#000" stroke-width="0.35">DSS+DePg</text>
<text transform="translate(1606.3 1773) rotate(-90)" text-anchor="middle" font-size="24.5" class="bi">Bacteroidetes</text>
<text transform="translate(1640.5 1773) rotate(-90)" text-anchor="middle" font-size="24.5" class="bi">(&#215;10<tspan font-size="14.5" dy="-9">3</tspan><tspan dy="9"> per field)</tspan></text>
<text x="1722.5" y="1592.8" font-size="17.5" fill="#000">p=0.0005</text>
<text x="1723.1" y="1596.8" font-size="21" text-anchor="end" fill="#000" font-family="DejaVu Sans,sans-serif" font-weight="bold" stroke="#000" stroke-width="0.7" stroke-linejoin="round" letter-spacing="2.1">***</text>
<line x1="1716.4" y1="1604" x2="1763.7" y2="1604" stroke="#000" stroke-width="1.8"/>
<text x="1757.5" y="1630.3" font-size="17.5" fill="#000">p=0.0258</text>
<text x="1758.1" y="1634.3" font-size="21" text-anchor="end" fill="#000" font-family="DejaVu Sans,sans-serif" font-weight="bold" stroke="#000" stroke-width="0.7" stroke-linejoin="round" letter-spacing="2.1">*</text>
<line x1="1766" y1="1641.7" x2="1807" y2="1641.7" stroke="#000" stroke-width="1.8"/>
<text x="1738.5" y="1674.8" font-size="17.5" fill="#000">p=0.0069</text>
<text x="1739.1" y="1678.8" font-size="21" text-anchor="end" fill="#000" font-family="DejaVu Sans,sans-serif" font-weight="bold" stroke="#000" stroke-width="0.7" stroke-linejoin="round" letter-spacing="2.1">**</text>
<line x1="1715.7" y1="1686.5" x2="1807.3" y2="1686.5" stroke="#000" stroke-width="1.8"/>
<path d="M1718.8 1846.5Q1716.8 1850 1714.8 1851.2Q1712.8 1852.5 1713.5 1854Q1714.3 1855.5 1713.3 1856.8Q1712.3 1858 1713.5 1859.5Q1714.8 1861 1715.8 1861.8L1716.8 1862.5L1734.8 1862.5Q1736.8 1861 1738 1859.5Q1739.3 1858 1738.3 1856.8Q1737.3 1855.5 1738 1854Q1738.8 1852.5 1736.8 1851.2Q1734.8 1850 1733.8 1848.2L1732.8 1846.5Z" fill="none" stroke="#0c9a6c" stroke-width="1.6" stroke-linejoin="round"/>
<line x1="1714" y1="1853.5" x2="1738" y2="1853.5" stroke="#0c9a6c" stroke-width="1.2" stroke-dasharray="3 2"/>
<path d="M1763.9 1703Q1764.9 1708 1765.8 1712Q1766.6 1716 1765 1720Q1763.4 1724 1760.4 1727Q1757.4 1730 1756.2 1732.5Q1754.9 1735 1755.2 1737Q1755.4 1739 1755.7 1739.5L1755.9 1740L1780.9 1740Q1781.4 1739 1781.7 1737Q1781.9 1735 1780.7 1732.5Q1779.4 1730 1776.4 1727Q1773.4 1724 1771.8 1720Q1770.2 1716 1771.1 1712Q1771.9 1708 1772.4 1705.5L1772.9 1703Z" fill="none" stroke="#ff0a0a" stroke-width="1.6" stroke-linejoin="round"/>
<line x1="1756" y1="1733" x2="1781" y2="1733" stroke="#ff0a0a" stroke-width="1.2" stroke-dasharray="3 2"/>
<path d="M1804 1775Q1805 1779 1803.2 1781Q1801.5 1783 1799.2 1785.5Q1797 1788 1797.2 1790Q1797.5 1792 1798.5 1793.2L1799.5 1794.5L1821.5 1794.5Q1823.5 1792 1823.8 1790Q1824 1788 1821.8 1785.5Q1819.5 1783 1817.8 1781Q1816 1779 1816.5 1777L1817 1775Z" fill="none" stroke="#0a0af8" stroke-width="1.6" stroke-linejoin="round"/>
<line x1="1799" y1="1789" x2="1823" y2="1789" stroke="#0a0af8" stroke-width="1.2" stroke-dasharray="3 2"/>
<circle cx="1714.5" cy="1853.2" r="3.7" fill="#048404"/>
<circle cx="1725.8" cy="1852.7" r="3.7" fill="#048404"/>
<circle cx="1736.3" cy="1846.7" r="3.7" fill="#048404"/>
<circle cx="1714.5" cy="1861.6" r="3.7" fill="#048404"/>
<circle cx="1736.3" cy="1859.3" r="3.7" fill="#048404"/>
<rect x="1764.6" y="1699.1" width="7.6" height="7.6" fill="#ff0a0a"/>
<rect x="1764.6" y="1727.2" width="7.6" height="7.6" fill="#ff0a0a"/>
<rect x="1775.8" y="1725.2" width="7.6" height="7.6" fill="#ff0a0a"/>
<rect x="1753.1" y="1735.4" width="7.6" height="7.6" fill="#ff0a0a"/>
<rect x="1775.8" y="1733.5" width="7.6" height="7.6" fill="#ff0a0a"/>
<path d="M1810.5 1770.4L1814.8 1778.1L1806.2 1778.1Z" fill="#0a0af8"/>
<path d="M1800 1779.1L1804.3 1786.8L1795.7 1786.8Z" fill="#0a0af8"/>
<path d="M1810.5 1783.3L1814.8 1791L1806.2 1791Z" fill="#0a0af8"/>
<path d="M1821.8 1785.4L1826.1 1793.1L1817.5 1793.1Z" fill="#0a0af8"/>
<path d="M1799.5 1790.1L1803.8 1797.8L1795.2 1797.8Z" fill="#0a0af8"/>
<path d="M1687.1 2141.5V2373.5M1678.9 2373.5H1837.5" fill="none" stroke="#000" stroke-width="2"/>
<line x1="1678.1" y1="2373.5" x2="1687.1" y2="2373.5" stroke="#000" stroke-width="2"/>
<text x="1675.7" y="2380.9" class="b" font-size="20.6" text-anchor="end">0</text>
<line x1="1678.1" y1="2315.8" x2="1687.1" y2="2315.8" stroke="#000" stroke-width="2"/>
<text x="1675.7" y="2323.2" class="b" font-size="20.6" text-anchor="end">5</text>
<line x1="1678.1" y1="2258" x2="1687.1" y2="2258" stroke="#000" stroke-width="2"/>
<text x="1675.7" y="2265.4" class="b" font-size="20.6" text-anchor="end">10</text>
<line x1="1678.1" y1="2200.2" x2="1687.1" y2="2200.2" stroke="#000" stroke-width="2"/>
<text x="1675.7" y="2207.7" class="b" font-size="20.6" text-anchor="end">15</text>
<line x1="1678.1" y1="2142.5" x2="1687.1" y2="2142.5" stroke="#000" stroke-width="2"/>
<text x="1675.7" y="2149.9" class="b" font-size="20.6" text-anchor="end">20</text>
<line x1="1716.9" y1="2373.5" x2="1716.9" y2="2382.5" stroke="#000" stroke-width="2"/>
<text transform="translate(1725.9 2406.8) rotate(-45)" text-anchor="end" font-size="24.8" class="b" stroke="#000" stroke-width="0.35">DSS+PBS</text>
<line x1="1762.1" y1="2373.5" x2="1762.1" y2="2382.5" stroke="#000" stroke-width="2"/>
<text transform="translate(1771.1 2406.8) rotate(-45)" text-anchor="end" font-size="24.8" class="b" stroke="#000" stroke-width="0.35">DSS+LiPg</text>
<line x1="1807" y1="2373.5" x2="1807" y2="2382.5" stroke="#000" stroke-width="2"/>
<text transform="translate(1816 2406.8) rotate(-45)" text-anchor="end" font-size="24.8" class="b" stroke="#000" stroke-width="0.35">DSS+DePg</text>
<text transform="translate(1608.7 2255.4) rotate(-90)" text-anchor="middle" font-size="26" class="bi">P.gingivalis</text>
<text transform="translate(1639.1 2255.4) rotate(-90)" text-anchor="middle" font-size="26" class="bi">( per field)</text>
<text x="1716.5" y="2041" font-size="18.5" fill="#000">p=0.0007</text>
<text x="1717.9" y="2044.3" font-size="21.3" text-anchor="end" fill="#000" font-family="DejaVu Sans,sans-serif" font-weight="bold" stroke="#000" stroke-width="0.7" stroke-linejoin="round" letter-spacing="2.9">***</text>
<line x1="1708.2" y1="2052.8" x2="1760.9" y2="2052.8" stroke="#000" stroke-width="1.8"/>
<text x="1760" y="2087.4" font-size="18.5" fill="#000">p=0.0049</text>
<text x="1761.4" y="2090.7" font-size="21.3" text-anchor="end" fill="#000" font-family="DejaVu Sans,sans-serif" font-weight="bold" stroke="#000" stroke-width="0.7" stroke-linejoin="round" letter-spacing="2.9">**</text>
<line x1="1761.4" y1="2099" x2="1808.9" y2="2099" stroke="#000" stroke-width="1.8"/>
<text x="1741.5" y="2129.6" font-size="18.5" fill="#000" textLength="84.4" lengthAdjust="spacing">p &lt; 0.0001</text>
<text x="1742.9" y="2132.9" font-size="21.3" text-anchor="end" fill="#000" font-family="DejaVu Sans,sans-serif" font-weight="bold" stroke="#000" stroke-width="0.7" stroke-linejoin="round" letter-spacing="2.9">****</text>
<line x1="1708.2" y1="2141" x2="1804.2" y2="2141" stroke="#000" stroke-width="1.8"/>
<path d="M1712.4 2339Q1712.9 2343 1714.2 2346.5Q1715.4 2350 1714.7 2353.5Q1713.9 2357 1711.2 2360.5Q1708.4 2364 1706.2 2367Q1703.9 2370 1703.2 2371.2L1702.4 2372.5L1731.4 2372.5Q1729.9 2370 1727.7 2367Q1725.4 2364 1722.7 2360.5Q1719.9 2357 1719.2 2353.5Q1718.4 2350 1719.7 2346.5Q1720.9 2343 1721.2 2341L1721.4 2339Z" fill="none" stroke="#0c9a6c" stroke-width="1.6" stroke-linejoin="round"/>
<path d="M1754.1 2167Q1753.6 2175 1753.1 2179Q1752.6 2183 1751.6 2186.5Q1750.6 2190 1749.1 2193Q1747.6 2196 1747.1 2198Q1746.6 2200 1746.6 2200.5L1746.6 2201L1777.6 2201Q1777.6 2200 1777.1 2198Q1776.6 2196 1775.1 2193Q1773.6 2190 1772.6 2186.5Q1771.6 2183 1771.1 2179Q1770.6 2175 1770.3 2171L1770.1 2167Z" fill="none" stroke="#ff0a0a" stroke-width="1.6" stroke-linejoin="round"/>
<line x1="1754" y1="2171.5" x2="1770" y2="2171.5" stroke="#ff0a0a" stroke-width="1.2" stroke-dasharray="1.5 1.5"/>
<line x1="1751" y1="2189.5" x2="1773" y2="2189.5" stroke="#ff0a0a" stroke-width="1.2" stroke-dasharray="3 2"/>
<path d="M1799.5 2281Q1799 2286 1798 2289.5Q1797 2293 1795 2296.5Q1793 2300 1792.5 2302.2Q1792 2304.5 1793.2 2306.8Q1794.5 2309 1796.8 2311.5Q1799 2314 1799.2 2315L1799.5 2316L1814.5 2316Q1815 2314 1817.2 2311.5Q1819.5 2309 1820.8 2306.8Q1822 2304.5 1821.5 2302.2Q1821 2300 1819 2296.5Q1817 2293 1816 2289.5Q1815 2286 1814.8 2283.5L1814.5 2281Z" fill="none" stroke="#0a0af8" stroke-width="1.6" stroke-linejoin="round"/>
<line x1="1799" y1="2286.5" x2="1815" y2="2286.5" stroke="#0a0af8" stroke-width="1.2" stroke-dasharray="1.5 1.5"/>
<line x1="1792" y1="2304.5" x2="1822" y2="2304.5" stroke="#0a0af8" stroke-width="1.2" stroke-dasharray="3 2"/>
<line x1="1797" y1="2310.5" x2="1817" y2="2310.5" stroke="#0a0af8" stroke-width="1.2" stroke-dasharray="1.5 1.5"/>
<circle cx="1716.9" cy="2339" r="3.7" fill="#048404"/>
<circle cx="1716.9" cy="2362.2" r="3.7" fill="#048404"/>
<circle cx="1705.4" cy="2373" r="3.7" fill="#048404"/>
<circle cx="1716.9" cy="2373" r="3.7" fill="#048404"/>
<circle cx="1728.3" cy="2373" r="3.7" fill="#048404"/>
<rect x="1758.3" y="2162.6" width="7.6" height="7.6" fill="#ff0a0a"/>
<rect x="1758.3" y="2174.7" width="7.6" height="7.6" fill="#ff0a0a"/>
<rect x="1758.3" y="2185.3" width="7.6" height="7.6" fill="#ff0a0a"/>
<rect x="1746.6" y="2197" width="7.6" height="7.6" fill="#ff0a0a"/>
<rect x="1770" y="2197" width="7.6" height="7.6" fill="#ff0a0a"/>
<path d="M1807 2276.5L1811.3 2284.2L1802.7 2284.2Z" fill="#0a0af8"/>
<path d="M1807 2288.2L1811.3 2295.9L1802.7 2295.9Z" fill="#0a0af8"/>
<path d="M1807 2299.9L1811.3 2307.6L1802.7 2307.6Z" fill="#0a0af8"/>
<path d="M1818.7 2299.9L1823 2307.6L1814.4 2307.6Z" fill="#0a0af8"/>
<path d="M1807 2311.7L1811.3 2319.4L1802.7 2319.4Z" fill="#0a0af8"/>
</g>
<g id="panel-f">
<text x="832" y="523.5" class="pl">f</text>
<rect x="1073" y="517.3" width="55.5" height="17.2" fill="#20b2aa"/>
<text x="1146.7" y="534.2" class="g">DSS+PBS</text>
<rect x="1324.3" y="517.3" width="55.5" height="17.2" fill="#dc143c"/>
<text x="1389.4" y="534.2" class="g">DSS+LiPg</text>
<rect x="1558.4" y="517.3" width="55.5" height="17.2" fill="#0000ff"/>
<text x="1631.5" y="534.2" class="g">DSS+DePg</text>
<rect x="1058.5" y="551.4" width="821" height="23" fill="#0000ff" stroke="#0a0a0a" stroke-width="1.8"/>
<text x="1037.6" y="571.5" font-size="16.2" text-anchor="end" fill="#1c1c1c" stroke="#1c1c1c" stroke-width="0.25">s__Bacteroides_cellulosilyticus</text>
<rect x="1058.5" y="581" width="621.9" height="23" fill="#0000ff" stroke="#0a0a0a" stroke-width="1.8"/>
<text x="1037.6" y="601.1" font-size="16.2" text-anchor="end" fill="#1c1c1c" stroke="#1c1c1c" stroke-width="0.25">s__Mucispirillum_schaedleri</text>
<rect x="1058.5" y="610.7" width="620.5" height="23" fill="#0000ff" stroke="#0a0a0a" stroke-width="1.8"/>
<text x="1037.6" y="630.8" font-size="16.2" text-anchor="end" fill="#1c1c1c" stroke="#1c1c1c" stroke-width="0.25">p__Deferribacteres</text>
<rect x="1058.5" y="640.3" width="597.5" height="23" fill="#0000ff" stroke="#0a0a0a" stroke-width="1.8"/>
<text x="1037.6" y="660.4" font-size="16.2" text-anchor="end" fill="#1c1c1c" stroke="#1c1c1c" stroke-width="0.25">s__Bacteroides_uniformis</text>
<rect x="1058.5" y="670" width="500.9" height="23" fill="#0000ff" stroke="#0a0a0a" stroke-width="1.8"/>
<text x="1037.6" y="690.1" font-size="16.2" text-anchor="end" fill="#1c1c1c" stroke="#1c1c1c" stroke-width="0.25">s__Clostridioides_difficile</text>
<rect x="1058.5" y="699.6" width="465.8" height="23" fill="#0000ff" stroke="#0a0a0a" stroke-width="1.8"/>
<text x="1037.6" y="719.8" font-size="16.2" text-anchor="end" fill="#1c1c1c" stroke="#1c1c1c" stroke-width="0.25">s__Bacteroides_paurosaccharolyticus</text>
<rect x="1058.5" y="729.3" width="444.3" height="23" fill="#0000ff" stroke="#0a0a0a" stroke-width="1.8"/>
<text x="1037.6" y="749.4" font-size="16.2" text-anchor="end" fill="#1c1c1c" stroke="#1c1c1c" stroke-width="0.25">s__Bacteroides_helcogenes</text>
<rect x="1058.5" y="758.9" width="420" height="23" fill="#0000ff" stroke="#0a0a0a" stroke-width="1.8"/>
<text x="1037.6" y="779" font-size="16.2" text-anchor="end" fill="#1c1c1c" stroke="#1c1c1c" stroke-width="0.25">s__Coprobacter_fastidiosus</text>
<rect x="1058.5" y="788.6" width="415.7" height="23" fill="#0000ff" stroke="#0a0a0a" stroke-width="1.8"/>
<text x="1037.6" y="808.7" font-size="16.2" text-anchor="end" fill="#1c1c1c" stroke="#1c1c1c" stroke-width="0.25">s__Catabacter_hongkongensis</text>
<rect x="1058.5" y="818.2" width="407.1" height="23" fill="#0000ff" stroke="#0a0a0a" stroke-width="1.8"/>
<text x="1037.6" y="838.4" font-size="16.2" text-anchor="end" fill="#1c1c1c" stroke="#1c1c1c" stroke-width="0.25">s__Clostridiales_bacterium_CCNA10</text>
<rect x="1058.5" y="847.9" width="888.3" height="23" fill="#dc143c" stroke="#0a0a0a" stroke-width="1.8"/>
<text x="1037.6" y="868" font-size="16.2" text-anchor="end" fill="#1c1c1c" stroke="#1c1c1c" stroke-width="0.25">s__Bacteroides_caecimuris</text>
<rect x="1058.5" y="877.5" width="639.8" height="23" fill="#dc143c" stroke="#0a0a0a" stroke-width="1.8"/>
<text x="1037.6" y="897.6" font-size="16.2" text-anchor="end" fill="#1c1c1c" stroke="#1c1c1c" stroke-width="0.25">s__Bifidobacterium_pseudolongum</text>
<rect x="1058.5" y="907.2" width="620.5" height="23" fill="#dc143c" stroke="#0a0a0a" stroke-width="1.8"/>
<text x="1037.6" y="927.3" font-size="16.2" text-anchor="end" fill="#1c1c1c" stroke="#1c1c1c" stroke-width="0.25">s__Bacteroides_ovatus</text>
<rect x="1058.5" y="936.8" width="553.2" height="23" fill="#dc143c" stroke="#0a0a0a" stroke-width="1.8"/>
<text x="1037.6" y="956.9" font-size="16.2" text-anchor="end" fill="#1c1c1c" stroke="#1c1c1c" stroke-width="0.25">s__Pseudodesulfovibrio_profundus</text>
<rect x="1058.5" y="966.5" width="536.7" height="23" fill="#dc143c" stroke="#0a0a0a" stroke-width="1.8"/>
<text x="1037.6" y="986.6" font-size="16.2" text-anchor="end" fill="#1c1c1c" stroke="#1c1c1c" stroke-width="0.25">s___Clostridium__cocleatum</text>
<rect x="1058.5" y="996.1" width="521.7" height="23" fill="#dc143c" stroke="#0a0a0a" stroke-width="1.8"/>
<text x="1037.6" y="1016.2" font-size="16.2" text-anchor="end" fill="#1c1c1c" stroke="#1c1c1c" stroke-width="0.25">s__Campylobacter_jejuni</text>
<rect x="1058.5" y="1025.8" width="511.7" height="23" fill="#dc143c" stroke="#0a0a0a" stroke-width="1.8"/>
<text x="1037.6" y="1045.9" font-size="16.2" text-anchor="end" fill="#1c1c1c" stroke="#1c1c1c" stroke-width="0.25">s__Brachybacterium_muris</text>
<rect x="1058.5" y="1055.4" width="505.9" height="23" fill="#dc143c" stroke="#0a0a0a" stroke-width="1.8"/>
<text x="1037.6" y="1075.5" font-size="16.2" text-anchor="end" fill="#1c1c1c" stroke="#1c1c1c" stroke-width="0.25">s__Desulfoluna_spongiiphila</text>
<rect x="1058.5" y="1085.1" width="476.6" height="23" fill="#dc143c" stroke="#0a0a0a" stroke-width="1.8"/>
<text x="1037.6" y="1105.2" font-size="16.2" text-anchor="end" fill="#1c1c1c" stroke="#1c1c1c" stroke-width="0.25">s__Bacteroides_nordii</text>
<rect x="1058.5" y="1114.8" width="455.8" height="23" fill="#dc143c" stroke="#0a0a0a" stroke-width="1.8"/>
<text x="1037.6" y="1134.8" font-size="16.2" text-anchor="end" fill="#1c1c1c" stroke="#1c1c1c" stroke-width="0.25">s__Bacteroides_reticulotermitis</text>
<rect x="1058.5" y="1144.4" width="431.5" height="23" fill="#dc143c" stroke="#0a0a0a" stroke-width="1.8"/>
<text x="1037.6" y="1164.5" font-size="16.2" text-anchor="end" fill="#1c1c1c" stroke="#1c1c1c" stroke-width="0.25">s__Bifidobacterium_crudilactis</text>
<rect x="1058.5" y="1174" width="427.2" height="23" fill="#dc143c" stroke="#0a0a0a" stroke-width="1.8"/>
<text x="1037.6" y="1194.1" font-size="16.2" text-anchor="end" fill="#1c1c1c" stroke="#1c1c1c" stroke-width="0.25">s__Sinomonas_mesophila</text>
<rect x="1058.5" y="1203.7" width="424.3" height="23" fill="#dc143c" stroke="#0a0a0a" stroke-width="1.8"/>
<text x="1037.6" y="1223.8" font-size="16.2" text-anchor="end" fill="#1c1c1c" stroke="#1c1c1c" stroke-width="0.25">s__Microbulbifer_mangrovi</text>
<rect x="1058.5" y="1233.3" width="846.1" height="23" fill="#00a0a0" stroke="#0a0a0a" stroke-width="1.8"/>
<text x="1037.6" y="1253.4" font-size="16.2" text-anchor="end" fill="#1c1c1c" stroke="#1c1c1c" stroke-width="0.25">p__Firmicutes</text>
<rect x="1058.5" y="1263" width="831.7" height="23" fill="#00a0a0" stroke="#0a0a0a" stroke-width="1.8"/>
<text x="1037.6" y="1283.1" font-size="16.2" text-anchor="end" fill="#1c1c1c" stroke="#1c1c1c" stroke-width="0.25">s__Faecalibaculum_rodentium</text>
<rect x="1058.5" y="1292.7" width="815.3" height="23" fill="#00a0a0" stroke="#0a0a0a" stroke-width="1.8"/>
<text x="1037.6" y="1312.8" font-size="16.2" text-anchor="end" fill="#1c1c1c" stroke="#1c1c1c" stroke-width="0.25">s__Akkermansia_muciniphila</text>
<rect x="1058.5" y="1322.3" width="812.4" height="23" fill="#00a0a0" stroke="#0a0a0a" stroke-width="1.8"/>
<text x="1037.6" y="1342.4" font-size="16.2" text-anchor="end" fill="#1c1c1c" stroke="#1c1c1c" stroke-width="0.25">p__Verrucomicrobia</text>
<rect x="1058.5" y="1351.9" width="574.6" height="23" fill="#00a0a0" stroke="#0a0a0a" stroke-width="1.8"/>
<text x="1037.6" y="1372" font-size="16.2" text-anchor="end" fill="#1c1c1c" stroke="#1c1c1c" stroke-width="0.25">s__Lactobacillus_murinus</text>
<rect x="1058.5" y="1381.6" width="435" height="23" fill="#00a0a0" stroke="#0a0a0a" stroke-width="1.8"/>
<text x="1037.6" y="1401.7" font-size="16.2" text-anchor="end" fill="#1c1c1c" stroke="#1c1c1c" stroke-width="0.25">s__Clostridium_ihumii</text>
<rect x="1058.5" y="1411.2" width="421.4" height="23" fill="#00a0a0" stroke="#0a0a0a" stroke-width="1.8"/>
<text x="1037.6" y="1431.3" font-size="16.2" text-anchor="end" fill="#1c1c1c" stroke="#1c1c1c" stroke-width="0.25">s___Clostridium__innocuum</text>
<line x1="1059.2" y1="541.5" x2="1059.2" y2="1438" stroke="#222" stroke-width="1.7" stroke-dasharray="2 7.3" stroke-opacity="0.8"/>
<line x1="1225.7" y1="541.5" x2="1225.7" y2="1438" stroke="#222" stroke-width="1.7" stroke-dasharray="2 7.3" stroke-opacity="0.8"/>
<line x1="1392.2" y1="541.5" x2="1392.2" y2="1438" stroke="#222" stroke-width="1.7" stroke-dasharray="2 7.3" stroke-opacity="0.8"/>
<line x1="1558.7" y1="541.5" x2="1558.7" y2="1438" stroke="#222" stroke-width="1.7" stroke-dasharray="2 7.3" stroke-opacity="0.8"/>
<line x1="1725.2" y1="541.5" x2="1725.2" y2="1438" stroke="#222" stroke-width="1.7" stroke-dasharray="2 7.3" stroke-opacity="0.8"/>
<line x1="1891.7" y1="541.5" x2="1891.7" y2="1438" stroke="#222" stroke-width="1.7" stroke-dasharray="2 7.3" stroke-opacity="0.8"/>
<line x1="1059.2" y1="1440.5" x2="1059.2" y2="1451.8" stroke="#333" stroke-width="1.4"/>
<text x="1059.2" y="1481.7" font-size="24.8" text-anchor="middle" fill="#222">0</text>
<line x1="1225.7" y1="1440.5" x2="1225.7" y2="1451.8" stroke="#333" stroke-width="1.4"/>
<text x="1225.7" y="1481.7" font-size="24.8" text-anchor="middle" fill="#222">1</text>
<line x1="1392.2" y1="1440.5" x2="1392.2" y2="1451.8" stroke="#333" stroke-width="1.4"/>
<text x="1392.2" y="1481.7" font-size="24.8" text-anchor="middle" fill="#222">2</text>
<line x1="1558.7" y1="1440.5" x2="1558.7" y2="1451.8" stroke="#333" stroke-width="1.4"/>
<text x="1558.7" y="1481.7" font-size="24.8" text-anchor="middle" fill="#222">3</text>
<line x1="1725.2" y1="1440.5" x2="1725.2" y2="1451.8" stroke="#333" stroke-width="1.4"/>
<text x="1725.2" y="1481.7" font-size="24.8" text-anchor="middle" fill="#222">4</text>
<line x1="1891.7" y1="1440.5" x2="1891.7" y2="1451.8" stroke="#333" stroke-width="1.4"/>
<text x="1891.7" y="1481.7" font-size="24.8" text-anchor="middle" fill="#222">5</text>
<text x="1558.9" y="1521.3" font-size="27.7" text-anchor="middle" fill="#222">LDA SCORE (log 10)</text>
</g>
</svg>
</body></html>
